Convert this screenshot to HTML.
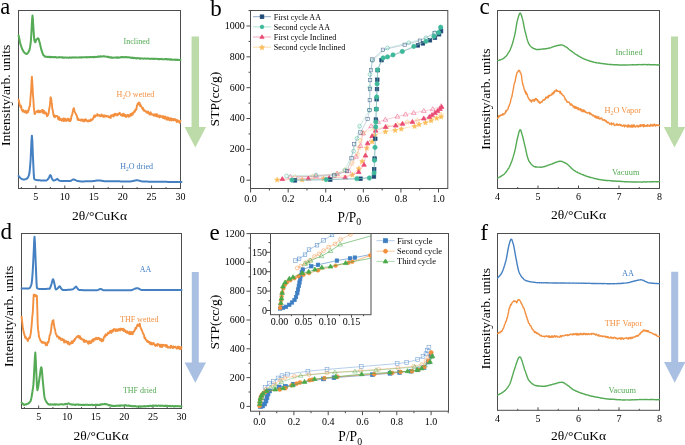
<!DOCTYPE html>
<html><head><meta charset="utf-8"><style>html,body{margin:0;padding:0;background:#fff;width:685px;height:445px;overflow:hidden}text{font-family:"Liberation Serif",serif}</style></head>
<body>
<svg width="685" height="445" viewBox="0 0 685 445" style="display:block;will-change:transform;font-family:'Liberation Serif',serif">
<rect width="685" height="445" fill="#fff"/>
<rect x="18.5" y="10.5" width="162.0" height="178.0" fill="none" stroke="#4d4d4d" stroke-width="1"/>
<line x1="35.85714285714286" y1="188.5" x2="35.85714285714286" y2="185.5" stroke="#4d4d4d" stroke-width="1"/>
<text x="35.86" y="199.6" font-size="10" text-anchor="middle" fill="#000" >5</text>
<line x1="64.78571428571428" y1="188.5" x2="64.78571428571428" y2="185.5" stroke="#4d4d4d" stroke-width="1"/>
<text x="64.79" y="199.6" font-size="10" text-anchor="middle" fill="#000" >10</text>
<line x1="93.71428571428571" y1="188.5" x2="93.71428571428571" y2="185.5" stroke="#4d4d4d" stroke-width="1"/>
<text x="93.71" y="199.6" font-size="10" text-anchor="middle" fill="#000" >15</text>
<line x1="122.64285714285714" y1="188.5" x2="122.64285714285714" y2="185.5" stroke="#4d4d4d" stroke-width="1"/>
<text x="122.64" y="199.6" font-size="10" text-anchor="middle" fill="#000" >20</text>
<line x1="151.57142857142856" y1="188.5" x2="151.57142857142856" y2="185.5" stroke="#4d4d4d" stroke-width="1"/>
<text x="151.57" y="199.6" font-size="10" text-anchor="middle" fill="#000" >25</text>
<line x1="180.5" y1="188.5" x2="180.5" y2="185.5" stroke="#4d4d4d" stroke-width="1"/>
<text x="180.5" y="199.6" font-size="10" text-anchor="middle" fill="#000" >30</text>
<line x1="21.392857142857142" y1="188.5" x2="21.392857142857142" y2="187.0" stroke="#4d4d4d" stroke-width="1"/>
<line x1="50.32142857142857" y1="188.5" x2="50.32142857142857" y2="187.0" stroke="#4d4d4d" stroke-width="1"/>
<line x1="79.25" y1="188.5" x2="79.25" y2="187.0" stroke="#4d4d4d" stroke-width="1"/>
<line x1="108.17857142857143" y1="188.5" x2="108.17857142857143" y2="187.0" stroke="#4d4d4d" stroke-width="1"/>
<line x1="137.10714285714286" y1="188.5" x2="137.10714285714286" y2="187.0" stroke="#4d4d4d" stroke-width="1"/>
<line x1="166.03571428571428" y1="188.5" x2="166.03571428571428" y2="187.0" stroke="#4d4d4d" stroke-width="1"/>
<text x="99.5" y="219.8" font-size="13.5" text-anchor="middle" fill="#000" >2θ/°CuKα</text>
<text x="0" y="0" font-size="13.5" text-anchor="middle" fill="#000" transform="translate(9.8,95.3) rotate(-90)">Intensity/arb. units</text>
<path d="M18.60,35.47 L19.08,37.82 L19.56,40.05 L20.04,42.43 L20.52,44.46 L21.00,45.78 L21.50,47.09 L22.00,48.72 L22.50,49.51 L23.00,50.45 L23.50,51.62 L24.00,51.99 L24.50,52.71 L25.00,53.05 L25.50,53.56 L26.00,53.61 L26.50,53.97 L27.00,53.94 L27.50,53.36 L28.00,52.84 L28.50,52.01 L29.00,50.78 L29.45,49.92 L29.90,47.94 L30.35,45.21 L30.80,41.77 L31.30,34.55 L31.80,24.99 L32.15,18.99 L32.50,15.59 L32.90,19.45 L33.30,26.21 L33.80,34.15 L34.30,40.15 L34.75,41.47 L35.20,42.32 L35.63,41.72 L36.07,40.18 L36.50,39.32 L36.92,38.92 L37.35,38.91 L37.78,38.37 L38.20,38.36 L38.63,38.84 L39.07,40.41 L39.50,41.94 L40.00,43.81 L40.50,46.09 L41.00,48.23 L41.50,50.20 L42.00,51.62 L42.50,53.17 L43.00,54.33 L43.50,55.25 L43.98,55.66 L44.45,55.90 L44.92,56.60 L45.40,56.83 L45.88,56.87 L46.36,56.76 L46.84,56.89 L47.32,56.68 L47.80,57.04 L48.28,56.95 L48.76,56.84 L49.24,56.76 L49.72,57.18 L50.20,57.27 L50.68,56.84 L51.16,57.22 L51.64,57.04 L52.12,56.93 L52.60,57.02 L53.08,57.27 L53.56,57.34 L54.04,56.94 L54.52,57.24 L55.00,56.97 L55.50,57.33 L56.00,57.15 L56.50,57.45 L57.00,57.52 L57.50,57.30 L58.00,57.56 L58.50,57.24 L59.00,57.14 L59.50,57.42 L60.00,57.15 L60.50,57.26 L61.00,57.38 L61.50,57.50 L62.00,57.28 L62.50,57.24 L63.00,57.67 L63.50,57.41 L64.00,57.74 L64.50,57.73 L65.00,57.48 L65.50,57.53 L66.00,57.57 L66.50,57.64 L67.00,57.62 L67.50,57.61 L68.00,57.65 L68.50,57.81 L69.00,57.60 L69.50,57.56 L70.00,57.71 L70.50,57.47 L71.00,57.50 L71.50,57.83 L72.00,57.60 L72.50,57.61 L73.00,57.34 L73.50,57.53 L74.00,57.61 L74.50,57.32 L75.00,57.61 L75.50,57.61 L76.00,57.31 L76.50,57.58 L77.00,57.49 L77.50,57.59 L78.00,57.41 L78.50,57.57 L79.00,57.58 L79.50,57.21 L80.00,57.21 L80.50,57.51 L81.00,57.64 L81.50,57.27 L82.00,57.36 L82.50,57.41 L83.00,57.26 L83.50,57.27 L84.00,57.23 L84.50,57.25 L85.00,57.35 L85.50,57.19 L86.00,57.21 L86.50,57.40 L87.00,57.02 L87.50,57.27 L88.00,57.34 L88.50,57.12 L89.00,57.06 L89.50,57.34 L90.00,57.04 L90.50,57.00 L91.00,57.11 L91.50,57.23 L92.00,56.91 L92.50,57.01 L93.00,57.00 L93.50,57.23 L94.00,57.01 L94.50,57.20 L95.00,56.83 L95.49,56.89 L95.99,57.02 L96.48,57.09 L96.97,56.83 L97.47,56.67 L97.96,56.57 L98.46,56.72 L98.95,56.50 L99.44,56.76 L99.94,56.73 L100.43,56.36 L100.93,56.37 L101.42,56.60 L101.91,56.49 L102.41,56.56 L102.90,56.32 L103.39,56.22 L103.88,56.32 L104.38,56.60 L104.87,56.38 L105.36,56.47 L105.85,56.56 L106.34,56.63 L106.83,56.69 L107.33,57.02 L107.82,56.72 L108.31,56.72 L108.80,57.27 L109.29,57.32 L109.78,57.45 L110.28,57.26 L110.77,57.59 L111.26,57.65 L111.75,57.36 L112.24,57.68 L112.73,57.77 L113.23,57.73 L113.72,57.68 L114.21,57.59 L114.70,57.62 L115.18,57.56 L115.67,57.47 L116.15,57.70 L116.64,57.52 L117.12,57.75 L117.61,57.33 L118.09,57.72 L118.57,57.57 L119.06,57.64 L119.54,57.57 L120.03,57.53 L120.51,57.32 L120.99,57.00 L121.48,57.33 L121.96,57.00 L122.45,57.04 L122.93,57.20 L123.42,57.12 L123.90,57.06 L124.40,57.32 L124.90,57.17 L125.40,57.05 L125.90,57.03 L126.40,57.37 L126.90,57.21 L127.40,57.40 L127.90,57.23 L128.40,57.20 L128.90,57.42 L129.40,57.62 L129.90,57.36 L130.40,57.72 L130.90,57.85 L131.40,57.85 L131.90,57.93 L132.40,57.58 L132.90,57.95 L133.40,58.13 L133.90,57.78 L134.40,57.95 L134.90,58.01 L135.40,58.19 L135.90,58.18 L136.40,58.25 L136.90,58.45 L137.40,58.10 L137.90,58.15 L138.40,58.21 L138.89,58.23 L139.38,58.23 L139.87,58.70 L140.36,58.66 L140.85,58.29 L141.35,58.52 L141.84,58.44 L142.33,58.45 L142.82,58.49 L143.31,58.65 L143.80,58.63 L144.29,58.54 L144.78,58.46 L145.27,58.55 L145.76,58.46 L146.25,58.68 L146.75,58.78 L147.24,58.62 L147.73,58.48 L148.22,58.54 L148.71,58.65 L149.20,58.78 L149.69,58.87 L150.18,58.68 L150.67,58.91 L151.16,58.83 L151.65,58.74 L152.15,58.72 L152.64,58.80 L153.13,58.91 L153.62,58.78 L154.11,58.93 L154.60,58.82 L155.09,58.73 L155.58,58.89 L156.07,58.98 L156.56,58.68 L157.05,58.87 L157.55,58.88 L158.04,59.13 L158.53,59.17 L159.02,58.90 L159.51,59.18 L160.00,59.15 L160.50,58.90 L161.00,59.02 L161.50,58.87 L162.00,59.23 L162.50,59.18 L163.00,59.31 L163.50,59.28 L164.00,59.24 L164.50,59.30 L165.00,59.24 L165.50,59.03 L166.00,59.30 L166.50,59.03 L167.00,59.12 L167.50,59.46 L168.00,59.12 L168.50,59.17 L169.00,59.20 L169.50,59.62 L170.00,59.29 L170.50,59.24 L171.00,59.68 L171.50,59.34 L172.00,59.73 L172.50,59.67 L173.00,59.78 L173.50,59.86 L174.00,59.70 L174.50,59.84 L175.00,59.49 L175.50,59.88 L176.00,59.78 L176.50,59.90 L177.00,59.63 L177.50,59.97 L178.00,60.09 L178.50,59.68 L179.00,59.84 L179.50,59.98 L180.00,60.14 L180.50,59.87" fill="none" stroke="#55aa55" stroke-width="2" stroke-linejoin="round" stroke-linecap="round"/>
<path d="M18.60,99.74 L18.98,101.47 L19.36,103.09 L19.74,104.94 L20.12,105.65 L20.50,107.18 L20.93,105.65 L21.37,107.83 L21.80,110.09 L22.23,110.11 L22.67,111.58 L23.10,110.01 L23.53,111.49 L23.97,111.18 L24.40,112.12 L24.83,112.21 L25.27,110.64 L25.70,111.21 L26.13,111.38 L26.57,113.17 L27.00,112.74 L27.42,110.92 L27.83,112.35 L28.25,109.92 L28.67,110.47 L29.08,108.12 L29.50,106.60 L29.93,106.29 L30.37,99.66 L30.80,94.20 L31.17,89.74 L31.53,81.92 L31.90,76.71 L32.27,82.13 L32.63,88.42 L33.00,95.50 L33.42,100.03 L33.85,107.87 L34.28,111.58 L34.70,114.11 L35.11,113.88 L35.53,112.15 L35.94,112.22 L36.35,111.56 L36.76,111.37 L37.17,111.01 L37.59,111.55 L38.00,112.29 L38.42,110.51 L38.84,112.28 L39.27,111.21 L39.69,111.02 L40.11,112.33 L40.53,111.29 L40.96,110.75 L41.38,111.17 L41.80,111.77 L42.20,110.01 L42.60,112.71 L43.00,110.24 L43.40,112.52 L43.80,113.07 L44.20,111.05 L44.60,113.51 L45.00,112.63 L45.38,113.56 L45.77,112.41 L46.15,112.98 L46.53,113.78 L46.92,116.26 L47.30,114.25 L47.74,115.41 L48.18,114.80 L48.62,113.23 L49.06,109.63 L49.50,107.59 L49.85,105.42 L50.20,102.45 L50.55,97.31 L50.90,97.70 L51.25,99.13 L51.60,102.39 L51.95,103.73 L52.30,109.25 L52.73,109.78 L53.17,113.12 L53.60,115.31 L54.02,116.62 L54.45,115.35 L54.88,117.25 L55.30,116.40 L55.73,115.92 L56.15,116.10 L56.58,115.88 L57.00,115.82 L57.43,116.28 L57.87,118.08 L58.30,119.24 L58.73,117.21 L59.17,117.20 L59.60,120.13 L60.03,119.14 L60.47,119.03 L60.90,118.76 L61.33,119.92 L61.77,120.68 L62.20,119.68 L62.64,119.58 L63.08,118.56 L63.52,120.96 L63.96,118.49 L64.39,119.78 L64.83,120.75 L65.27,118.77 L65.71,120.45 L66.15,121.06 L66.59,120.17 L67.03,120.61 L67.47,118.70 L67.91,119.62 L68.34,118.82 L68.78,120.77 L69.22,119.23 L69.66,119.67 L70.10,121.20 L70.50,120.44 L70.90,119.87 L71.30,117.11 L71.70,115.73 L72.10,114.93 L72.50,112.94 L72.88,111.16 L73.25,110.10 L73.62,108.27 L74.00,108.46 L74.45,110.76 L74.90,112.11 L75.35,112.90 L75.80,114.00 L76.24,114.76 L76.68,115.35 L77.12,117.03 L77.56,119.35 L78.00,120.03 L78.44,118.76 L78.88,120.08 L79.32,120.18 L79.76,120.08 L80.20,120.10 L80.64,120.48 L81.08,119.47 L81.52,120.51 L81.96,119.41 L82.40,120.06 L82.84,120.93 L83.28,120.77 L83.72,119.72 L84.16,121.60 L84.60,120.81 L85.04,120.66 L85.48,119.11 L85.92,120.64 L86.36,119.83 L86.80,121.03 L87.24,120.47 L87.68,121.47 L88.12,121.01 L88.56,121.43 L89.00,120.17 L89.44,120.95 L89.88,121.07 L90.32,121.10 L90.76,119.47 L91.19,120.50 L91.63,120.18 L92.07,119.25 L92.51,119.60 L92.95,119.08 L93.39,117.39 L93.83,116.96 L94.27,115.52 L94.71,117.00 L95.14,116.93 L95.58,115.35 L96.02,115.73 L96.46,115.67 L96.90,115.64 L97.35,114.09 L97.79,115.82 L98.24,115.31 L98.68,115.60 L99.13,114.99 L99.58,115.64 L100.02,116.16 L100.47,115.88 L100.92,116.23 L101.36,114.40 L101.81,114.90 L102.25,115.81 L102.70,116.52 L103.15,115.44 L103.59,116.87 L104.04,116.84 L104.48,115.31 L104.93,116.62 L105.38,116.04 L105.82,115.65 L106.27,115.96 L106.72,116.55 L107.16,116.23 L107.61,116.30 L108.05,115.89 L108.50,117.10 L108.95,116.85 L109.40,117.45 L109.85,117.31 L110.30,116.21 L110.75,117.95 L111.20,115.27 L111.65,116.24 L112.10,115.70 L112.55,115.87 L113.00,114.84 L113.45,116.64 L113.90,115.15 L114.35,113.99 L114.80,115.40 L115.25,113.74 L115.70,114.81 L116.15,114.05 L116.60,114.56 L117.05,115.46 L117.50,114.94 L117.95,113.72 L118.40,114.74 L118.85,114.22 L119.30,113.43 L119.75,112.82 L120.19,114.17 L120.64,114.19 L121.09,115.43 L121.53,115.63 L121.98,114.81 L122.43,114.28 L122.87,116.00 L123.32,113.70 L123.77,114.18 L124.21,115.63 L124.66,115.91 L125.11,114.70 L125.55,116.14 L126.00,116.90 L126.44,115.44 L126.89,115.56 L127.33,114.93 L127.78,115.03 L128.22,116.84 L128.67,115.05 L129.11,116.54 L129.56,116.24 L130.00,115.17 L130.44,114.03 L130.89,115.83 L131.33,114.24 L131.78,113.76 L132.22,113.22 L132.67,114.80 L133.11,113.12 L133.56,112.23 L134.00,112.44 L134.42,111.01 L134.83,111.79 L135.25,110.53 L135.67,109.25 L136.08,109.70 L136.50,108.92 L136.88,105.59 L137.26,105.74 L137.64,103.73 L138.02,104.61 L138.40,103.79 L138.83,102.44 L139.27,102.89 L139.70,103.14 L140.13,106.12 L140.57,104.83 L141.00,106.30 L141.43,106.49 L141.87,107.59 L142.30,108.13 L142.73,109.19 L143.17,108.09 L143.60,110.49 L144.03,109.75 L144.47,110.85 L144.90,110.64 L145.35,110.81 L145.79,111.72 L146.24,111.78 L146.68,111.72 L147.13,113.01 L147.57,112.78 L148.02,111.41 L148.47,112.20 L148.91,112.94 L149.36,114.39 L149.80,114.46 L150.25,113.65 L150.70,112.30 L151.14,114.58 L151.59,113.73 L152.03,114.27 L152.48,114.77 L152.93,114.68 L153.37,114.39 L153.82,115.72 L154.26,114.37 L154.71,114.52 L155.15,115.95 L155.60,114.25 L156.04,114.67 L156.47,116.30 L156.91,114.29 L157.34,116.58 L157.78,116.32 L158.21,115.71 L158.65,115.43 L159.09,116.94 L159.52,117.42 L159.96,115.39 L160.39,116.46 L160.83,116.77 L161.26,116.75 L161.70,116.40 L162.14,116.02 L162.57,117.35 L163.01,118.09 L163.44,116.13 L163.88,116.70 L164.31,118.46 L164.75,118.50 L165.19,118.26 L165.62,116.59 L166.06,118.65 L166.49,119.49 L166.93,119.66 L167.36,118.94 L167.80,117.24 L168.24,119.58 L168.68,117.95 L169.11,119.27 L169.55,120.24 L169.99,119.69 L170.43,118.19 L170.87,118.75 L171.30,120.62 L171.74,118.58 L172.18,119.99 L172.62,119.56 L173.06,118.97 L173.49,120.38 L173.93,118.87 L174.37,119.17 L174.81,120.05 L175.24,119.30 L175.68,119.38 L176.12,120.94 L176.56,121.53 L177.00,122.03 L177.43,120.06 L177.87,121.01 L178.31,120.80 L178.75,121.71 L179.19,121.52 L179.62,122.89 L180.06,121.43 L180.50,120.66" fill="none" stroke="#f39040" stroke-width="1.9" stroke-linejoin="round" stroke-linecap="round"/>
<path d="M18.60,175.90 L19.08,176.46 L19.56,177.06 L20.04,177.64 L20.52,178.14 L21.00,178.50 L21.45,178.75 L21.90,178.98 L22.35,179.19 L22.80,179.35 L23.25,179.46 L23.70,179.50 L24.17,179.48 L24.64,179.41 L25.11,179.30 L25.59,179.15 L26.06,178.96 L26.53,178.75 L27.00,178.50 L27.44,178.15 L27.88,177.56 L28.32,176.74 L28.76,175.65 L29.20,174.30 L29.67,171.26 L30.13,166.11 L30.60,160.00 L31.03,151.15 L31.47,140.72 L31.90,135.70 L32.30,140.34 L32.70,150.39 L33.10,160.00 L33.47,167.90 L33.83,175.47 L34.20,179.00 L34.68,179.32 L35.15,179.57 L35.62,179.77 L36.10,179.91 L36.58,180.02 L37.05,180.09 L37.52,180.15 L38.00,180.20 L38.48,180.25 L38.96,180.29 L39.44,180.33 L39.92,180.37 L40.41,180.40 L40.89,180.44 L41.37,180.47 L41.85,180.49 L42.33,180.52 L42.81,180.54 L43.29,180.56 L43.78,180.57 L44.26,180.58 L44.74,180.59 L45.22,180.60 L45.70,180.60 L46.17,180.51 L46.63,180.28 L47.10,179.93 L47.57,179.49 L48.03,179.01 L48.50,178.50 L48.98,177.68 L49.45,176.54 L49.92,175.53 L50.40,175.10 L50.80,175.51 L51.20,176.48 L51.60,177.60 L52.00,178.50 L52.40,179.19 L52.80,179.87 L53.20,180.39 L53.60,180.60 L54.08,180.54 L54.55,180.40 L55.02,180.20 L55.50,180.00 L55.92,179.74 L56.35,179.41 L56.78,179.12 L57.20,179.00 L57.65,179.21 L58.10,179.68 L58.55,180.18 L59.00,180.50 L59.46,180.64 L59.91,180.77 L60.37,180.88 L60.83,180.97 L61.29,181.04 L61.74,181.08 L62.20,181.10 L62.69,181.10 L63.18,181.10 L63.66,181.10 L64.15,181.09 L64.64,181.09 L65.12,181.09 L65.61,181.08 L66.10,181.08 L66.59,181.07 L67.08,181.06 L67.56,181.06 L68.05,181.05 L68.54,181.04 L69.03,181.03 L69.51,181.01 L70.00,181.00 L70.45,180.93 L70.90,180.75 L71.35,180.51 L71.80,180.24 L72.25,179.97 L72.70,179.73 L73.15,179.56 L73.60,179.50 L74.09,179.56 L74.57,179.72 L75.06,179.94 L75.54,180.19 L76.03,180.44 L76.51,180.65 L77.00,180.80 L77.46,180.90 L77.91,180.99 L78.37,181.09 L78.82,181.17 L79.28,181.25 L79.73,181.31 L80.19,181.36 L80.64,181.39 L81.10,181.40 L81.60,181.40 L82.09,181.40 L82.59,181.40 L83.08,181.39 L83.58,181.39 L84.07,181.38 L84.57,181.38 L85.06,181.37 L85.56,181.36 L86.05,181.36 L86.55,181.35 L87.05,181.34 L87.54,181.33 L88.04,181.31 L88.53,181.30 L89.03,181.29 L89.52,181.28 L90.02,181.26 L90.51,181.25 L91.01,181.23 L91.50,181.22 L92.00,181.20 L92.50,181.17 L93.00,181.12 L93.50,181.06 L94.00,180.99 L94.50,180.90 L95.00,180.82 L95.50,180.73 L96.00,180.64 L96.50,180.57 L97.00,180.50 L97.50,180.45 L98.00,180.41 L98.50,180.40 L99.00,180.41 L99.50,180.45 L100.00,180.50 L100.50,180.57 L101.00,180.65 L101.50,180.74 L102.00,180.83 L102.50,180.92 L103.00,181.00 L103.50,181.08 L104.00,181.14 L104.50,181.18 L105.00,181.20 L105.50,181.21 L106.00,181.22 L106.50,181.23 L107.00,181.23 L107.50,181.24 L108.00,181.25 L108.50,181.26 L109.00,181.26 L109.50,181.27 L110.00,181.28 L110.50,181.29 L111.00,181.29 L111.50,181.30 L112.00,181.30 L112.50,181.31 L113.00,181.32 L113.50,181.32 L114.00,181.33 L114.50,181.33 L115.00,181.34 L115.50,181.34 L116.00,181.34 L116.50,181.35 L117.00,181.35 L117.50,181.36 L118.00,181.36 L118.50,181.36 L119.00,181.37 L119.50,181.37 L120.00,181.37 L120.50,181.38 L121.00,181.38 L121.50,181.38 L122.00,181.38 L122.50,181.39 L123.00,181.39 L123.50,181.39 L124.00,181.39 L124.50,181.39 L125.00,181.39 L125.50,181.39 L126.00,181.40 L126.50,181.40 L127.00,181.40 L127.50,181.40 L128.00,181.40 L128.50,181.40 L129.00,181.40 L129.50,181.40 L130.00,181.40 L130.47,181.39 L130.95,181.35 L131.42,181.29 L131.89,181.21 L132.37,181.11 L132.84,181.01 L133.31,180.90 L133.79,180.80 L134.26,180.69 L134.73,180.59 L135.21,180.49 L135.68,180.41 L136.15,180.35 L136.63,180.31 L137.10,180.30 L137.59,180.32 L138.08,180.38 L138.57,180.48 L139.07,180.60 L139.56,180.73 L140.05,180.88 L140.54,181.02 L141.03,181.16 L141.53,181.29 L142.02,181.39 L142.51,181.46 L143.00,181.50 L143.50,181.52 L144.00,181.53 L144.50,181.54 L145.00,181.56 L145.50,181.57 L146.00,181.59 L146.50,181.60 L147.00,181.61 L147.50,181.62 L148.00,181.63 L148.50,181.64 L149.00,181.66 L149.50,181.67 L150.00,181.68 L150.50,181.69 L151.00,181.69 L151.50,181.70 L152.00,181.71 L152.50,181.72 L153.00,181.73 L153.50,181.74 L154.00,181.74 L154.50,181.75 L155.00,181.76 L155.50,181.77 L156.00,181.77 L156.50,181.78 L157.00,181.78 L157.50,181.79 L158.00,181.80 L158.50,181.80 L159.00,181.81 L159.50,181.81 L160.00,181.82 L160.50,181.82 L161.00,181.83 L161.50,181.83 L162.00,181.84 L162.50,181.84 L163.00,181.84 L163.50,181.85 L164.00,181.85 L164.50,181.86 L165.00,181.86 L165.50,181.86 L166.00,181.87 L166.50,181.87 L167.00,181.87 L167.50,181.88 L168.00,181.88 L168.50,181.88 L169.00,181.89 L169.50,181.89 L170.00,181.89 L170.50,181.90 L171.00,181.90 L171.50,181.90 L172.00,181.91 L172.50,181.91 L173.00,181.92 L173.50,181.92 L174.00,181.92 L174.50,181.93 L175.00,181.93 L175.50,181.94 L176.00,181.94 L176.50,181.95 L177.00,181.95 L177.50,181.95 L178.00,181.96 L178.50,181.96 L179.00,181.97 L179.50,181.98 L180.00,181.98 L180.50,181.99 L181.00,181.99 L181.50,182.00" fill="none" stroke="#4580c2" stroke-width="2" stroke-linejoin="round" stroke-linecap="round"/>
<text x="123.5" y="44" font-size="8" fill="#55aa55"><tspan>Inclined</tspan></text>
<text x="116.6" y="96.5" font-size="8" fill="#f39040"><tspan>H</tspan><tspan font-size="5.44" dy="2">2</tspan><tspan dy="-2">O wetted</tspan></text>
<text x="120.3" y="169" font-size="8" fill="#4580c2"><tspan>H</tspan><tspan font-size="5.44" dy="2">2</tspan><tspan dy="-2">O dried</tspan></text>
<text x="0.3" y="13.5" font-size="22.5" text-anchor="start" fill="#000" >a</text>
<path d="M191.55,36.6 L199.05,36.6 L199.05,127 L206.0,127 L195.3,147.6 L184.60000000000002,127 L191.55,127 Z" fill="#bcdba8"/>
<rect x="21.5" y="233.5" width="160.0" height="175.0" fill="none" stroke="#4d4d4d" stroke-width="1"/>
<line x1="38.64285714285714" y1="408.5" x2="38.64285714285714" y2="405.5" stroke="#4d4d4d" stroke-width="1"/>
<text x="38.64" y="419.6" font-size="10" text-anchor="middle" fill="#000" >5</text>
<line x1="67.21428571428572" y1="408.5" x2="67.21428571428572" y2="405.5" stroke="#4d4d4d" stroke-width="1"/>
<text x="67.21" y="419.6" font-size="10" text-anchor="middle" fill="#000" >10</text>
<line x1="95.78571428571429" y1="408.5" x2="95.78571428571429" y2="405.5" stroke="#4d4d4d" stroke-width="1"/>
<text x="95.79" y="419.6" font-size="10" text-anchor="middle" fill="#000" >15</text>
<line x1="124.35714285714286" y1="408.5" x2="124.35714285714286" y2="405.5" stroke="#4d4d4d" stroke-width="1"/>
<text x="124.36" y="419.6" font-size="10" text-anchor="middle" fill="#000" >20</text>
<line x1="152.92857142857144" y1="408.5" x2="152.92857142857144" y2="405.5" stroke="#4d4d4d" stroke-width="1"/>
<text x="152.93" y="419.6" font-size="10" text-anchor="middle" fill="#000" >25</text>
<line x1="181.5" y1="408.5" x2="181.5" y2="405.5" stroke="#4d4d4d" stroke-width="1"/>
<text x="181.5" y="419.6" font-size="10" text-anchor="middle" fill="#000" >30</text>
<line x1="24.357142857142858" y1="408.5" x2="24.357142857142858" y2="407.0" stroke="#4d4d4d" stroke-width="1"/>
<line x1="52.92857142857143" y1="408.5" x2="52.92857142857143" y2="407.0" stroke="#4d4d4d" stroke-width="1"/>
<line x1="81.5" y1="408.5" x2="81.5" y2="407.0" stroke="#4d4d4d" stroke-width="1"/>
<line x1="110.07142857142857" y1="408.5" x2="110.07142857142857" y2="407.0" stroke="#4d4d4d" stroke-width="1"/>
<line x1="138.64285714285714" y1="408.5" x2="138.64285714285714" y2="407.0" stroke="#4d4d4d" stroke-width="1"/>
<line x1="167.21428571428572" y1="408.5" x2="167.21428571428572" y2="407.0" stroke="#4d4d4d" stroke-width="1"/>
<text x="101.0" y="439.8" font-size="13.5" text-anchor="middle" fill="#000" >2θ/°CuKα</text>
<text x="0" y="0" font-size="13.5" text-anchor="middle" fill="#000" transform="translate(12.5,316.4) rotate(-90)">Intensity/arb. units</text>
<path d="M21.60,288.40 L22.09,288.40 L22.59,288.40 L23.08,288.40 L23.57,288.40 L24.07,288.40 L24.56,288.40 L25.05,288.40 L25.55,288.40 L26.04,288.40 L26.53,288.40 L27.03,288.40 L27.52,288.40 L28.01,288.40 L28.51,288.40 L29.00,288.40 L29.50,288.20 L30.00,287.64 L30.50,286.73 L31.00,285.51 L31.50,284.00 L31.93,281.11 L32.37,276.05 L32.80,270.00 L33.30,260.66 L33.80,250.00 L34.15,241.65 L34.50,236.70 L34.90,242.17 L35.30,252.00 L35.75,263.56 L36.20,275.00 L36.55,283.23 L36.90,287.90 L37.34,288.25 L37.79,288.51 L38.23,288.71 L38.67,288.85 L39.11,288.94 L39.56,288.99 L40.00,289.00 L40.50,289.00 L41.00,289.00 L41.50,289.00 L42.00,288.99 L42.50,288.99 L43.00,288.98 L43.50,288.97 L44.00,288.96 L44.50,288.95 L45.00,288.94 L45.50,288.92 L46.00,288.90 L46.50,288.88 L47.00,288.86 L47.50,288.83 L48.00,288.80 L48.50,288.77 L49.00,288.74 L49.50,288.70 L50.00,288.20 L50.50,287.01 L51.00,285.49 L51.50,284.00 L52.00,282.15 L52.50,280.14 L53.00,279.20 L53.50,280.04 L54.00,281.94 L54.50,284.00 L54.93,286.13 L55.37,288.43 L55.80,289.50 L56.24,289.40 L56.68,289.14 L57.12,288.79 L57.56,288.39 L58.00,288.00 L58.42,287.54 L58.85,286.98 L59.28,286.50 L59.70,286.30 L60.20,286.75 L60.70,287.68 L61.20,288.50 L61.62,289.00 L62.05,289.49 L62.48,289.85 L62.90,290.00 L63.38,290.00 L63.86,290.00 L64.34,289.99 L64.82,289.98 L65.29,289.97 L65.77,289.96 L66.25,289.94 L66.73,289.92 L67.21,289.90 L67.69,289.87 L68.17,289.84 L68.65,289.81 L69.13,289.78 L69.61,289.74 L70.08,289.70 L70.56,289.66 L71.04,289.61 L71.52,289.56 L72.00,289.50 L72.50,289.37 L73.00,289.11 L73.50,288.77 L74.00,288.38 L74.50,288.00 L75.00,287.47 L75.50,286.88 L76.00,286.60 L76.50,286.98 L77.00,287.79 L77.50,288.50 L77.97,288.99 L78.45,289.47 L78.93,289.84 L79.40,290.00 L79.89,290.02 L80.39,290.04 L80.88,290.06 L81.38,290.08 L81.87,290.10 L82.37,290.12 L82.86,290.13 L83.35,290.15 L83.85,290.16 L84.34,290.17 L84.84,290.19 L85.33,290.20 L85.83,290.21 L86.32,290.22 L86.81,290.23 L87.31,290.24 L87.80,290.24 L88.30,290.25 L88.79,290.26 L89.29,290.26 L89.78,290.27 L90.27,290.27 L90.77,290.28 L91.26,290.28 L91.76,290.29 L92.25,290.29 L92.75,290.29 L93.24,290.29 L93.73,290.30 L94.23,290.30 L94.72,290.30 L95.22,290.30 L95.71,290.30 L96.21,290.30 L96.70,290.30 L97.20,290.24 L97.70,290.10 L98.20,289.89 L98.70,289.65 L99.20,289.41 L99.70,289.20 L100.20,289.06 L100.70,289.00 L101.17,289.07 L101.64,289.26 L102.11,289.51 L102.59,289.79 L103.06,290.04 L103.53,290.23 L104.00,290.30 L104.50,290.30 L105.00,290.30 L105.50,290.30 L106.00,290.30 L106.50,290.30 L107.00,290.30 L107.50,290.30 L108.00,290.30 L108.50,290.30 L109.00,290.30 L109.50,290.30 L110.00,290.30 L110.50,290.30 L111.00,290.30 L111.50,290.30 L112.00,290.30 L112.50,290.30 L113.00,290.30 L113.50,290.30 L114.00,290.30 L114.50,290.30 L115.00,290.30 L115.50,290.30 L116.00,290.30 L116.50,290.30 L117.00,290.30 L117.50,290.30 L118.00,290.30 L118.50,290.30 L119.00,290.30 L119.50,290.30 L120.00,290.30 L120.50,290.30 L121.00,290.30 L121.50,290.30 L122.00,290.30 L122.50,290.30 L123.00,290.30 L123.50,290.30 L124.00,290.30 L124.50,290.30 L125.00,290.30 L125.50,290.30 L126.00,290.30 L126.50,290.30 L127.00,290.30 L127.50,290.30 L128.00,290.30 L128.50,290.30 L129.00,290.30 L129.50,290.30 L130.00,290.30 L130.49,290.27 L130.99,290.20 L131.48,290.08 L131.97,289.93 L132.47,289.76 L132.96,289.56 L133.45,289.35 L133.95,289.15 L134.44,288.94 L134.93,288.74 L135.43,288.57 L135.92,288.42 L136.41,288.30 L136.91,288.23 L137.40,288.20 L137.86,288.25 L138.32,288.39 L138.78,288.59 L139.24,288.83 L139.70,289.10 L140.16,289.37 L140.62,289.61 L141.08,289.81 L141.54,289.95 L142.00,290.00 L142.50,290.00 L143.00,290.00 L143.50,290.00 L144.00,290.00 L144.50,290.00 L145.00,290.00 L145.50,290.00 L146.00,290.00 L146.50,290.00 L147.00,290.00 L147.50,290.00 L148.00,290.00 L148.50,290.00 L149.00,290.00 L149.50,290.00 L150.00,290.00 L150.50,290.00 L151.00,290.00 L151.50,290.00 L152.00,290.00 L152.50,290.00 L153.00,290.00 L153.50,290.00 L154.00,290.00 L154.50,290.00 L155.00,290.00 L155.50,290.00 L156.00,290.00 L156.50,290.00 L157.00,290.00 L157.50,290.00 L158.00,290.00 L158.50,290.00 L159.00,290.00 L159.50,290.00 L160.00,290.00 L160.50,290.00 L161.00,290.00 L161.50,290.00 L162.00,290.00 L162.50,290.00 L163.00,290.00 L163.50,290.00 L164.00,290.00 L164.50,290.00 L165.00,290.00 L165.50,290.00 L166.00,290.00 L166.50,290.00 L167.00,290.00 L167.50,290.00 L168.00,290.00 L168.50,290.00 L169.00,290.00 L169.50,290.00 L170.00,290.00 L170.50,290.00 L171.00,290.00 L171.50,290.00 L172.00,290.00 L172.50,290.00 L173.00,290.00 L173.50,290.00 L174.00,290.00 L174.50,290.00 L175.00,290.00 L175.50,290.00 L176.00,290.00 L176.50,290.00 L177.00,290.00 L177.50,290.00 L178.00,290.00 L178.50,290.00 L179.00,290.00 L179.50,290.00 L180.00,290.00 L180.50,290.00 L181.00,290.00 L181.50,290.00" fill="none" stroke="#4580c2" stroke-width="2" stroke-linejoin="round" stroke-linecap="round"/>
<path d="M21.60,316.63 L22.05,321.12 L22.50,324.76 L22.95,328.87 L23.40,330.32 L23.85,333.06 L24.30,334.41 L24.73,335.52 L25.17,337.77 L25.60,336.82 L26.03,338.59 L26.47,338.25 L26.90,338.92 L27.33,339.63 L27.77,340.98 L28.20,340.40 L28.58,338.52 L28.97,338.62 L29.35,337.30 L29.73,338.09 L30.12,336.46 L30.50,334.86 L30.88,332.55 L31.25,328.82 L31.62,325.32 L32.00,320.82 L32.33,315.93 L32.67,313.97 L33.00,308.56 L33.35,300.92 L33.70,294.58 L34.08,294.53 L34.45,295.07 L34.83,295.98 L35.20,295.98 L35.62,295.10 L36.05,296.35 L36.48,295.56 L36.90,295.76 L37.30,308.63 L37.70,324.55 L38.08,329.63 L38.47,331.58 L38.85,335.98 L39.23,337.49 L39.62,338.26 L40.00,339.27 L40.43,340.85 L40.86,340.68 L41.29,341.74 L41.71,342.54 L42.14,342.26 L42.57,341.77 L43.00,342.97 L43.41,342.42 L43.82,342.57 L44.23,342.60 L44.64,343.22 L45.05,342.51 L45.46,344.23 L45.87,345.16 L46.28,343.64 L46.69,344.60 L47.10,345.21 L47.51,342.41 L47.93,341.85 L48.34,342.47 L48.76,341.03 L49.17,338.77 L49.59,335.70 L50.00,334.76 L50.43,334.03 L50.86,331.53 L51.29,328.51 L51.71,324.12 L52.14,323.62 L52.57,320.66 L53.00,321.01 L53.40,320.13 L53.80,324.34 L54.20,325.78 L54.60,328.62 L55.00,329.19 L55.40,331.95 L55.80,333.42 L56.20,334.78 L56.60,335.01 L57.04,336.65 L57.49,336.13 L57.93,336.51 L58.38,336.60 L58.82,338.47 L59.26,337.25 L59.71,337.91 L60.15,337.78 L60.59,339.68 L61.04,339.70 L61.48,339.91 L61.93,338.73 L62.37,340.07 L62.81,340.02 L63.26,339.54 L63.70,339.51 L64.15,342.53 L64.60,340.31 L65.05,341.05 L65.50,341.19 L65.95,342.34 L66.40,341.11 L66.85,342.42 L67.30,342.32 L67.75,343.80 L68.20,341.63 L68.65,342.67 L69.10,343.21 L69.55,344.60 L70.00,343.35 L70.43,343.18 L70.86,343.60 L71.29,342.35 L71.72,341.33 L72.15,342.32 L72.58,343.09 L73.01,342.19 L73.44,340.41 L73.87,341.14 L74.30,341.13 L74.73,339.00 L75.16,339.46 L75.59,338.37 L76.02,337.64 L76.45,337.39 L76.88,336.83 L77.31,336.97 L77.74,335.88 L78.17,336.76 L78.60,335.84 L79.04,337.80 L79.49,337.58 L79.93,336.23 L80.38,338.78 L80.82,337.59 L81.27,338.85 L81.71,339.49 L82.16,339.24 L82.60,339.41 L83.02,340.04 L83.44,339.44 L83.86,341.71 L84.28,339.83 L84.70,342.05 L85.12,340.57 L85.54,341.02 L85.96,341.45 L86.38,340.63 L86.80,341.06 L87.22,341.85 L87.64,342.18 L88.06,343.48 L88.48,343.85 L88.90,341.22 L89.35,342.57 L89.80,341.34 L90.24,343.09 L90.69,341.56 L91.14,342.93 L91.59,341.70 L92.03,340.23 L92.48,339.59 L92.93,339.94 L93.38,341.35 L93.82,339.00 L94.27,339.59 L94.72,338.97 L95.17,338.58 L95.61,339.58 L96.06,337.67 L96.51,338.86 L96.96,338.53 L97.40,339.14 L97.85,337.89 L98.30,338.98 L98.70,337.72 L99.10,338.33 L99.50,338.81 L99.90,339.84 L100.30,340.43 L100.70,338.65 L101.10,339.06 L101.50,340.41 L101.90,341.27 L102.32,340.39 L102.75,339.45 L103.17,340.86 L103.59,338.43 L104.02,337.17 L104.44,336.35 L104.86,335.53 L105.28,336.71 L105.71,334.24 L106.13,335.27 L106.55,335.11 L106.98,335.01 L107.40,334.17 L107.85,332.85 L108.30,333.16 L108.75,333.52 L109.20,332.97 L109.65,331.56 L110.10,332.67 L110.55,330.64 L111.00,330.99 L111.45,332.73 L111.90,331.07 L112.35,330.33 L112.80,331.61 L113.25,330.51 L113.70,329.11 L114.15,329.03 L114.60,329.54 L115.05,329.62 L115.50,331.20 L115.95,329.16 L116.40,330.75 L116.85,330.68 L117.30,329.38 L117.75,330.93 L118.20,330.23 L118.65,329.41 L119.10,328.76 L119.55,329.30 L120.00,330.53 L120.44,329.52 L120.88,328.60 L121.32,329.19 L121.76,329.56 L122.20,328.89 L122.64,330.10 L123.09,328.75 L123.53,331.12 L123.97,329.51 L124.41,329.50 L124.85,331.06 L125.29,330.49 L125.73,332.32 L126.17,331.45 L126.61,331.73 L127.05,332.82 L127.49,331.29 L127.93,332.98 L128.37,332.89 L128.81,332.45 L129.26,334.09 L129.70,331.61 L130.14,334.08 L130.58,332.17 L131.02,334.19 L131.46,332.31 L131.90,332.05 L132.34,333.22 L132.77,334.16 L133.21,331.90 L133.64,332.04 L134.08,331.79 L134.51,330.10 L134.95,330.17 L135.38,327.96 L135.82,328.42 L136.25,328.54 L136.69,326.64 L137.12,325.63 L137.56,324.56 L137.99,325.88 L138.43,324.73 L138.86,325.85 L139.30,325.27 L139.75,323.74 L140.20,326.70 L140.65,327.73 L141.10,328.57 L141.55,329.81 L142.00,330.51 L142.40,331.66 L142.80,332.72 L143.20,333.82 L143.60,334.21 L144.00,335.14 L144.40,337.92 L144.80,338.46 L145.20,337.56 L145.63,339.65 L146.06,339.98 L146.50,340.11 L146.93,341.22 L147.36,341.86 L147.79,340.80 L148.22,342.33 L148.65,341.73 L149.09,342.21 L149.52,342.02 L149.95,343.71 L150.38,342.57 L150.81,344.20 L151.25,342.67 L151.68,343.79 L152.11,344.63 L152.54,344.15 L152.97,343.43 L153.40,342.74 L153.84,343.99 L154.27,343.94 L154.70,345.18 L155.14,345.21 L155.59,345.89 L156.03,344.50 L156.47,344.50 L156.92,345.03 L157.36,345.65 L157.81,343.87 L158.25,344.34 L158.69,344.23 L159.14,344.81 L159.58,344.83 L160.03,346.78 L160.47,344.72 L160.91,346.83 L161.36,345.11 L161.80,344.93 L162.24,347.15 L162.69,344.74 L163.13,344.87 L163.57,344.97 L164.02,344.86 L164.46,345.82 L164.91,345.39 L165.35,345.30 L165.79,344.95 L166.24,346.92 L166.68,345.16 L167.12,345.72 L167.57,346.72 L168.01,347.66 L168.46,347.09 L168.90,347.28 L169.35,347.32 L169.80,347.64 L170.25,347.85 L170.70,345.95 L171.15,345.72 L171.60,347.36 L172.05,347.12 L172.50,347.17 L172.95,347.95 L173.40,346.30 L173.85,347.83 L174.30,347.09 L174.75,347.12 L175.20,346.67 L175.65,346.82 L176.10,347.70 L176.55,347.67 L177.00,348.70 L177.45,346.99 L177.90,348.25 L178.35,346.56 L178.80,348.16 L179.25,346.83 L179.70,348.82 L180.15,349.17 L180.60,347.22 L181.05,348.82 L181.50,347.21" fill="none" stroke="#f39040" stroke-width="1.9" stroke-linejoin="round" stroke-linecap="round"/>
<path d="M21.60,402.51 L22.05,403.12 L22.50,403.71 L22.95,403.81 L23.40,404.53 L23.85,404.81 L24.30,404.90 L24.76,404.54 L25.23,404.41 L25.69,404.49 L26.15,404.55 L26.61,404.05 L27.07,403.98 L27.54,403.64 L28.00,403.71 L28.43,403.52 L28.87,402.90 L29.30,402.90 L29.73,401.88 L30.17,401.78 L30.60,401.13 L31.00,399.50 L31.40,397.90 L31.80,395.47 L32.20,393.27 L32.60,390.46 L33.00,387.95 L33.40,384.63 L33.77,379.12 L34.13,371.76 L34.50,364.75 L34.90,357.42 L35.30,352.58 L35.75,359.58 L36.20,369.78 L36.60,378.53 L37.00,386.52 L37.40,390.15 L37.82,388.77 L38.24,386.82 L38.66,383.70 L39.08,380.97 L39.50,377.91 L39.95,375.07 L40.40,371.10 L40.85,368.39 L41.30,367.22 L41.72,368.63 L42.15,373.12 L42.58,378.62 L43.00,383.02 L43.45,387.40 L43.90,392.07 L44.35,396.38 L44.80,398.32 L45.27,399.68 L45.74,400.66 L46.21,401.55 L46.68,402.08 L47.15,403.06 L47.62,403.77 L48.09,403.84 L48.56,404.15 L49.03,404.68 L49.50,404.55 L50.00,404.36 L50.50,404.21 L51.00,404.65 L51.50,404.41 L52.00,404.48 L52.50,404.36 L53.00,404.58 L53.50,404.64 L54.00,404.39 L54.50,404.25 L55.00,404.79 L55.50,404.75 L56.00,404.21 L56.50,404.54 L57.00,404.61 L57.50,404.44 L58.00,404.64 L58.50,404.78 L59.00,404.55 L59.50,404.43 L60.00,404.32 L60.50,404.35 L61.00,404.27 L61.50,404.22 L62.00,404.25 L62.50,404.59 L63.00,404.36 L63.50,404.47 L64.00,404.49 L64.50,404.36 L65.00,403.85 L65.50,404.31 L66.00,403.76 L66.48,404.09 L66.96,404.02 L67.44,403.81 L67.92,403.57 L68.40,403.35 L68.83,403.42 L69.27,403.91 L69.70,403.88 L70.13,404.27 L70.57,404.28 L71.00,404.30 L71.50,404.40 L72.00,404.67 L72.50,404.55 L73.00,404.51 L73.50,404.58 L74.00,404.64 L74.50,404.63 L75.00,404.60 L75.50,404.93 L76.00,404.81 L76.50,404.51 L77.00,404.58 L77.50,404.51 L78.00,404.63 L78.50,404.44 L79.00,404.88 L79.50,404.79 L80.00,404.71 L80.50,405.00 L81.00,404.67 L81.50,404.83 L82.00,405.05 L82.50,404.83 L83.00,404.88 L83.50,404.74 L84.00,405.12 L84.50,404.98 L85.00,404.72 L85.50,404.75 L86.00,404.90 L86.50,404.86 L87.00,404.87 L87.50,404.68 L88.00,404.91 L88.50,404.99 L89.00,405.03 L89.50,404.85 L90.00,404.85 L90.50,404.88 L91.00,404.91 L91.50,404.87 L92.00,404.60 L92.50,404.75 L93.00,405.19 L93.50,405.09 L94.00,404.88 L94.50,405.05 L95.00,404.72 L95.50,404.76 L96.00,404.91 L96.50,405.02 L97.00,404.62 L97.50,404.88 L98.00,405.14 L98.48,404.95 L98.97,405.14 L99.45,404.55 L99.94,404.96 L100.42,404.84 L100.91,404.26 L101.39,404.48 L101.88,404.52 L102.36,404.11 L102.85,404.30 L103.33,404.36 L103.82,404.29 L104.30,404.06 L104.79,403.85 L105.29,404.18 L105.78,404.04 L106.28,404.34 L106.77,404.29 L107.27,404.46 L107.76,404.71 L108.26,405.02 L108.75,405.26 L109.25,405.07 L109.74,404.98 L110.24,405.57 L110.73,405.45 L111.23,405.83 L111.72,405.98 L112.22,405.59 L112.71,406.08 L113.21,405.86 L113.70,405.89 L114.18,405.90 L114.67,406.01 L115.15,405.82 L115.63,405.95 L116.11,405.80 L116.60,405.67 L117.08,405.72 L117.56,405.94 L118.04,405.68 L118.53,405.58 L119.01,405.64 L119.49,405.51 L119.97,405.93 L120.46,405.78 L120.94,405.36 L121.42,405.41 L121.90,405.46 L122.39,405.49 L122.87,405.38 L123.35,405.44 L123.83,405.57 L124.32,405.20 L124.80,405.44 L125.28,405.20 L125.77,405.44 L126.25,405.33 L126.74,405.65 L127.22,405.74 L127.71,405.82 L128.19,405.54 L128.68,405.72 L129.16,405.51 L129.65,405.89 L130.13,405.99 L130.62,405.84 L131.10,405.84 L131.58,406.17 L132.07,406.23 L132.55,406.32 L133.04,406.07 L133.52,406.10 L134.01,406.15 L134.49,406.17 L134.98,406.10 L135.46,406.20 L135.95,406.46 L136.43,406.44 L136.92,406.73 L137.40,406.43 L137.90,406.30 L138.40,406.75 L138.89,406.23 L139.39,406.38 L139.89,406.63 L140.39,406.35 L140.88,406.72 L141.38,406.57 L141.88,406.29 L142.38,406.60 L142.87,406.61 L143.37,406.34 L143.87,406.10 L144.37,406.05 L144.86,406.45 L145.36,406.46 L145.86,406.29 L146.36,406.34 L146.85,406.32 L147.35,405.96 L147.85,405.91 L148.35,406.28 L148.84,406.23 L149.34,405.96 L149.84,405.83 L150.34,405.69 L150.83,405.86 L151.33,406.14 L151.83,405.69 L152.33,405.73 L152.82,405.54 L153.32,405.84 L153.82,405.52 L154.32,405.87 L154.81,405.74 L155.31,405.69 L155.81,405.58 L156.31,405.59 L156.80,405.94 L157.30,405.97 L157.80,405.85 L158.29,405.53 L158.79,405.53 L159.28,405.62 L159.78,405.94 L160.27,405.98 L160.76,405.56 L161.26,405.81 L161.75,405.67 L162.24,405.72 L162.74,405.58 L163.23,405.91 L163.73,405.96 L164.22,406.07 L164.71,405.81 L165.21,405.80 L165.70,405.94 L166.19,405.64 L166.69,406.11 L167.18,406.06 L167.68,405.76 L168.17,405.88 L168.66,405.95 L169.16,406.19 L169.65,406.12 L170.14,405.86 L170.64,406.31 L171.13,406.32 L171.62,406.30 L172.12,406.10 L172.61,406.11 L173.11,406.10 L173.60,406.46 L174.09,406.19 L174.59,406.49 L175.08,406.05 L175.57,405.98 L176.07,406.27 L176.56,406.13 L177.06,406.18 L177.55,406.07 L178.04,406.14 L178.54,406.35 L179.03,406.16 L179.53,406.31 L180.02,406.51 L180.51,406.32 L181.01,406.37 L181.50,406.43" fill="none" stroke="#55aa55" stroke-width="2" stroke-linejoin="round" stroke-linecap="round"/>
<text x="139.8" y="272" font-size="8" fill="#4580c2"><tspan>AA</tspan></text>
<text x="120" y="322" font-size="8" fill="#f39040"><tspan>THF wetted</tspan></text>
<text x="122.9" y="393" font-size="8" fill="#55aa55"><tspan>THF dried</tspan></text>
<text x="0.4" y="239.4" font-size="23" text-anchor="start" fill="#000" >d</text>
<path d="M191.8,271.9 L198.8,271.9 L198.8,362.4 L206.0,362.4 L195.3,382.7 L184.60000000000002,362.4 L191.8,362.4 Z" fill="#a9c0e3"/>
<rect x="497.5" y="10.5" width="162.0" height="178.0" fill="none" stroke="#4d4d4d" stroke-width="1"/>
<line x1="497.5" y1="188.5" x2="497.5" y2="185.5" stroke="#4d4d4d" stroke-width="1"/>
<text x="497.5" y="200.1" font-size="10" text-anchor="middle" fill="#000" >4</text>
<line x1="538.0" y1="188.5" x2="538.0" y2="185.5" stroke="#4d4d4d" stroke-width="1"/>
<text x="538.0" y="200.1" font-size="10" text-anchor="middle" fill="#000" >5</text>
<line x1="578.5" y1="188.5" x2="578.5" y2="185.5" stroke="#4d4d4d" stroke-width="1"/>
<text x="578.5" y="200.1" font-size="10" text-anchor="middle" fill="#000" >6</text>
<line x1="619.0" y1="188.5" x2="619.0" y2="185.5" stroke="#4d4d4d" stroke-width="1"/>
<text x="619.0" y="200.1" font-size="10" text-anchor="middle" fill="#000" >7</text>
<line x1="659.5" y1="188.5" x2="659.5" y2="185.5" stroke="#4d4d4d" stroke-width="1"/>
<text x="659.5" y="200.1" font-size="10" text-anchor="middle" fill="#000" >8</text>
<line x1="517.75" y1="188.5" x2="517.75" y2="187.0" stroke="#4d4d4d" stroke-width="1"/>
<line x1="558.25" y1="188.5" x2="558.25" y2="187.0" stroke="#4d4d4d" stroke-width="1"/>
<line x1="598.75" y1="188.5" x2="598.75" y2="187.0" stroke="#4d4d4d" stroke-width="1"/>
<line x1="639.25" y1="188.5" x2="639.25" y2="187.0" stroke="#4d4d4d" stroke-width="1"/>
<text x="578.5" y="218.8" font-size="13.5" text-anchor="middle" fill="#000" >2θ/°CuKα</text>
<text x="0" y="0" font-size="13.5" text-anchor="middle" fill="#000" transform="translate(490.3,99) rotate(-90)">Intensity/arb. units</text>
<path d="M497.60,60.60 L498.08,60.59 L498.56,60.42 L499.05,60.23 L499.53,60.00 L500.01,60.03 L500.49,59.88 L500.97,59.63 L501.45,59.46 L501.94,59.18 L502.42,58.89 L502.90,58.76 L503.38,58.54 L503.87,58.06 L504.35,57.89 L504.84,57.30 L505.32,56.83 L505.81,56.27 L506.29,56.00 L506.78,55.33 L507.26,54.73 L507.75,53.98 L508.23,53.09 L508.72,52.43 L509.20,51.70 L509.66,50.76 L510.12,50.07 L510.57,48.83 L511.03,47.59 L511.49,46.52 L511.95,44.94 L512.41,43.72 L512.87,42.04 L513.33,40.45 L513.78,38.70 L514.24,37.00 L514.70,35.11 L515.17,32.87 L515.63,30.43 L516.10,27.34 L516.57,24.64 L517.03,21.90 L517.50,20.14 L517.95,18.52 L518.40,16.90 L518.85,15.46 L519.30,14.22 L519.75,13.46 L520.20,12.99 L520.66,13.46 L521.12,14.54 L521.58,15.73 L522.04,17.53 L522.50,19.12 L522.98,20.89 L523.46,23.24 L523.94,25.82 L524.42,28.30 L524.90,30.65 L525.40,32.48 L525.90,34.39 L526.40,36.37 L526.90,38.42 L527.40,40.22 L527.90,41.60 L528.40,42.89 L528.90,43.92 L529.34,44.69 L529.79,45.18 L530.23,45.88 L530.67,46.38 L531.11,46.85 L531.56,47.09 L532.00,47.40 L532.47,47.74 L532.94,48.20 L533.41,48.29 L533.88,48.62 L534.35,48.76 L534.82,48.89 L535.29,49.04 L535.76,49.39 L536.23,49.46 L536.70,49.36 L537.19,49.45 L537.68,49.44 L538.17,49.50 L538.66,49.50 L539.15,49.31 L539.64,49.46 L540.13,49.42 L540.62,49.28 L541.11,49.33 L541.60,49.17 L542.10,49.10 L542.59,49.01 L543.08,49.16 L543.57,48.89 L544.06,48.81 L544.55,48.98 L545.04,48.91 L545.53,48.77 L546.02,48.82 L546.51,48.53 L547.00,48.53 L547.50,48.47 L548.00,48.41 L548.50,48.23 L549.00,48.07 L549.50,48.01 L550.00,48.03 L550.50,47.89 L551.00,47.65 L551.50,47.39 L552.00,47.14 L552.50,47.16 L553.00,46.85 L553.50,46.73 L554.00,46.34 L554.50,46.22 L555.00,46.24 L555.50,46.07 L556.00,45.95 L556.50,45.73 L557.00,45.56 L557.50,45.51 L558.00,45.50 L558.49,45.27 L558.98,45.27 L559.46,45.13 L559.95,45.21 L560.44,44.93 L560.92,45.09 L561.41,45.15 L561.90,44.86 L562.36,45.07 L562.81,45.20 L563.27,45.44 L563.72,45.59 L564.18,45.76 L564.63,46.09 L565.09,46.56 L565.54,46.84 L566.00,46.89 L566.46,47.17 L566.92,47.50 L567.38,47.83 L567.84,48.32 L568.30,48.62 L568.76,49.22 L569.22,49.55 L569.68,49.77 L570.14,50.26 L570.60,50.55 L571.08,50.95 L571.57,51.22 L572.05,51.56 L572.53,51.91 L573.02,52.32 L573.50,52.77 L573.98,53.06 L574.47,53.25 L574.95,53.78 L575.43,54.16 L575.92,54.46 L576.40,54.79 L576.88,54.87 L577.37,55.32 L577.85,55.50 L578.33,56.01 L578.82,56.12 L579.30,56.56 L579.76,56.69 L580.23,57.09 L580.69,57.24 L581.15,57.41 L581.62,57.77 L582.08,57.99 L582.55,58.40 L583.01,58.44 L583.47,58.72 L583.94,58.93 L584.40,59.23 L584.89,59.16 L585.38,59.50 L585.87,59.65 L586.36,59.90 L586.85,60.15 L587.34,60.12 L587.83,60.41 L588.32,60.53 L588.81,60.71 L589.30,60.72 L589.79,61.11 L590.28,61.31 L590.77,61.28 L591.26,61.41 L591.74,61.76 L592.23,61.64 L592.72,61.76 L593.21,61.89 L593.70,62.24 L594.19,62.34 L594.68,62.37 L595.17,62.53 L595.66,62.45 L596.15,62.74 L596.64,62.77 L597.13,62.88 L597.62,62.92 L598.11,63.00 L598.60,63.02 L599.09,63.03 L599.58,63.21 L600.08,63.22 L600.57,63.42 L601.06,63.51 L601.55,63.55 L602.04,63.53 L602.53,63.52 L603.02,63.62 L603.52,63.71 L604.01,63.82 L604.50,63.97 L604.99,63.76 L605.48,63.94 L605.98,64.00 L606.47,64.12 L606.96,64.22 L607.45,64.24 L607.94,64.24 L608.43,64.33 L608.93,64.35 L609.42,64.46 L609.91,64.45 L610.40,64.49 L610.89,64.40 L611.38,64.65 L611.88,64.53 L612.37,64.63 L612.86,64.73 L613.35,64.81 L613.84,64.85 L614.33,64.59 L614.83,64.71 L615.32,64.74 L615.81,64.79 L616.30,64.74 L616.79,64.89 L617.28,64.77 L617.78,64.85 L618.27,65.06 L618.76,65.02 L619.25,64.95 L619.74,64.86 L620.23,65.12 L620.73,65.05 L621.22,64.91 L621.71,64.95 L622.20,65.04 L622.69,65.05 L623.19,64.93 L623.68,65.13 L624.18,64.94 L624.67,64.91 L625.16,65.09 L625.66,64.87 L626.15,65.02 L626.64,64.87 L627.14,64.98 L627.63,64.88 L628.12,64.90 L628.62,65.06 L629.11,64.91 L629.61,64.89 L630.10,64.93 L630.59,64.82 L631.09,64.78 L631.58,64.83 L632.08,64.78 L632.57,64.74 L633.06,64.96 L633.56,64.67 L634.05,64.89 L634.54,64.92 L635.04,64.84 L635.53,64.62 L636.02,64.75 L636.52,64.60 L637.01,64.76 L637.51,64.78 L638.00,64.63 L638.49,64.55 L638.99,64.70 L639.48,64.55 L639.98,64.61 L640.47,64.64 L640.96,64.76 L641.46,64.60 L641.95,64.52 L642.44,64.71 L642.94,64.71 L643.43,64.62 L643.92,64.47 L644.42,64.51 L644.91,64.57 L645.41,64.62 L645.90,64.52 L646.39,64.69 L646.87,64.71 L647.36,64.74 L647.84,64.73 L648.33,64.48 L648.81,64.66 L649.30,64.52 L649.79,64.78 L650.27,64.74 L650.76,64.76 L651.24,64.61 L651.73,64.58 L652.21,64.83 L652.70,64.78 L653.19,64.80 L653.67,64.78 L654.16,64.90 L654.64,64.78 L655.13,64.77 L655.61,64.82 L656.10,64.82 L656.59,64.94 L657.07,65.04 L657.56,64.81 L658.04,64.82 L658.53,64.97 L659.01,65.04 L659.50,64.91" fill="none" stroke="#55aa55" stroke-width="1.4" stroke-linejoin="round" stroke-linecap="round"/>
<path d="M497.60,118.02 L498.04,117.89 L498.47,117.58 L498.91,115.48 L499.34,116.54 L499.78,115.98 L500.21,116.08 L500.65,114.96 L501.09,114.94 L501.52,115.36 L501.96,114.63 L502.39,114.98 L502.83,113.71 L503.26,113.60 L503.70,114.80 L504.13,113.76 L504.57,113.54 L505.00,113.56 L505.43,112.08 L505.87,110.71 L506.30,111.76 L506.73,110.56 L507.17,109.96 L507.60,109.09 L508.04,109.08 L508.49,106.68 L508.93,106.60 L509.37,104.55 L509.81,103.84 L510.26,102.76 L510.70,100.55 L511.14,98.42 L511.59,97.49 L512.03,96.00 L512.48,93.49 L512.92,90.88 L513.37,89.10 L513.81,85.82 L514.26,83.81 L514.70,82.38 L515.13,81.88 L515.57,78.61 L516.00,76.61 L516.43,74.82 L516.87,73.06 L517.30,72.23 L517.73,71.85 L518.17,71.73 L518.60,70.29 L519.00,70.48 L519.40,70.52 L519.80,70.91 L520.20,72.47 L520.64,72.89 L521.09,73.97 L521.53,75.90 L521.97,80.09 L522.41,82.46 L522.86,85.04 L523.30,85.37 L523.74,87.47 L524.19,89.64 L524.63,90.05 L525.08,92.02 L525.52,91.19 L525.97,94.09 L526.41,92.77 L526.86,94.45 L527.30,94.26 L527.73,96.84 L528.15,97.25 L528.58,98.64 L529.01,98.92 L529.44,99.91 L529.86,99.52 L530.29,101.12 L530.72,100.98 L531.15,100.35 L531.57,102.06 L532.00,100.70 L532.43,100.22 L532.86,99.82 L533.29,100.57 L533.72,99.71 L534.15,101.24 L534.58,101.04 L535.01,99.06 L535.44,98.61 L535.87,99.51 L536.30,98.61 L536.70,99.60 L537.10,100.50 L537.50,99.53 L537.90,100.38 L538.30,101.99 L538.70,101.34 L539.10,101.47 L539.50,103.05 L539.90,102.95 L540.32,103.11 L540.74,102.50 L541.16,101.66 L541.58,102.10 L542.00,102.15 L542.42,101.37 L542.84,100.06 L543.26,99.82 L543.68,99.71 L544.10,100.18 L544.52,99.28 L544.94,98.89 L545.36,99.20 L545.78,97.15 L546.20,98.11 L546.62,97.14 L547.05,97.43 L547.47,97.85 L547.89,96.21 L548.32,97.66 L548.74,95.34 L549.16,96.27 L549.58,95.99 L550.01,95.02 L550.43,95.55 L550.85,95.08 L551.28,94.76 L551.70,95.12 L552.13,93.08 L552.55,93.57 L552.98,94.11 L553.41,92.09 L553.84,93.36 L554.26,91.31 L554.69,92.03 L555.12,90.45 L555.55,90.83 L555.97,90.58 L556.40,89.70 L556.84,91.21 L557.29,90.76 L557.73,91.39 L558.18,91.20 L558.62,91.44 L559.07,91.60 L559.51,91.30 L559.96,93.00 L560.40,91.31 L560.84,93.51 L561.27,93.88 L561.71,93.48 L562.15,94.69 L562.59,95.05 L563.02,95.53 L563.46,95.46 L563.90,96.23 L564.34,97.02 L564.77,97.62 L565.21,99.90 L565.65,99.09 L566.09,99.84 L566.52,100.51 L566.96,102.00 L567.40,101.65 L567.82,102.23 L568.24,101.90 L568.66,102.33 L569.08,102.24 L569.50,102.90 L569.92,103.35 L570.34,105.09 L570.76,104.57 L571.18,103.93 L571.60,105.08 L572.02,104.54 L572.44,105.89 L572.86,105.86 L573.28,107.11 L573.70,105.92 L574.13,107.59 L574.57,106.38 L575.00,108.38 L575.44,107.76 L575.88,106.56 L576.31,108.61 L576.75,107.54 L577.18,107.94 L577.62,107.62 L578.05,109.47 L578.49,107.86 L578.92,109.60 L579.36,108.97 L579.79,109.83 L580.23,109.08 L580.66,108.75 L581.10,110.94 L581.53,110.50 L581.97,109.52 L582.40,111.64 L582.84,111.68 L583.28,110.11 L583.72,109.90 L584.16,111.51 L584.61,110.55 L585.05,112.15 L585.49,111.70 L585.93,112.45 L586.37,112.29 L586.81,112.95 L587.25,113.25 L587.69,112.90 L588.14,113.06 L588.58,112.61 L589.02,112.33 L589.46,112.42 L589.90,114.46 L590.34,113.09 L590.77,113.83 L591.21,113.78 L591.64,114.72 L592.08,114.73 L592.51,115.74 L592.95,114.95 L593.38,115.00 L593.82,115.92 L594.25,116.37 L594.69,117.03 L595.12,115.78 L595.56,117.38 L595.99,117.83 L596.43,118.04 L596.86,116.21 L597.30,117.01 L597.73,118.16 L598.17,118.49 L598.61,116.78 L599.04,117.82 L599.47,118.79 L599.91,119.06 L600.35,118.70 L600.78,118.10 L601.21,118.75 L601.65,118.09 L602.09,118.88 L602.52,119.33 L602.95,120.46 L603.39,120.08 L603.83,119.84 L604.26,119.62 L604.69,119.97 L605.13,121.02 L605.57,120.67 L606.00,120.22 L606.44,121.99 L606.89,121.63 L607.33,122.82 L607.77,122.05 L608.21,122.52 L608.66,122.32 L609.10,123.02 L609.54,124.02 L609.99,124.41 L610.43,123.87 L610.87,123.51 L611.31,122.80 L611.76,124.81 L612.20,123.84 L612.64,123.90 L613.09,123.20 L613.53,123.23 L613.97,124.16 L614.41,125.64 L614.86,125.15 L615.30,125.15 L615.74,125.13 L616.19,124.25 L616.63,124.07 L617.07,125.17 L617.51,123.95 L617.96,125.27 L618.40,125.15 L618.84,125.28 L619.29,124.33 L619.73,124.25 L620.17,125.28 L620.61,124.55 L621.06,125.78 L621.50,125.04 L621.94,125.83 L622.39,126.18 L622.83,125.88 L623.27,125.74 L623.71,124.97 L624.16,125.37 L624.60,126.92 L625.04,125.25 L625.49,125.31 L625.93,125.84 L626.37,125.99 L626.81,126.60 L627.26,125.43 L627.70,127.05 L628.14,124.81 L628.59,126.67 L629.03,126.15 L629.47,126.95 L629.91,125.16 L630.36,126.45 L630.80,127.07 L631.24,126.40 L631.69,125.07 L632.13,127.01 L632.57,127.12 L633.01,125.05 L633.46,126.77 L633.90,124.97 L634.34,124.96 L634.79,126.67 L635.23,126.48 L635.67,127.04 L636.11,126.25 L636.56,125.95 L637.00,125.36 L637.44,126.07 L637.89,127.06 L638.33,126.22 L638.77,126.75 L639.21,125.11 L639.66,126.39 L640.10,126.36 L640.54,124.76 L640.99,126.54 L641.43,124.98 L641.87,125.06 L642.31,124.67 L642.76,126.09 L643.20,124.82 L643.64,126.80 L644.09,124.44 L644.53,126.37 L644.97,126.23 L645.41,125.75 L645.86,125.74 L646.30,126.26 L646.74,125.85 L647.19,124.64 L647.63,126.19 L648.07,125.11 L648.51,125.64 L648.96,125.45 L649.40,126.37 L649.84,125.17 L650.28,126.20 L650.72,124.33 L651.16,124.89 L651.60,125.69 L652.03,125.52 L652.47,126.02 L652.91,124.49 L653.35,125.89 L653.79,125.84 L654.23,124.24 L654.67,124.20 L655.11,125.23 L655.55,126.14 L655.99,125.24 L656.43,124.76 L656.87,124.91 L657.30,125.60 L657.74,124.88 L658.18,124.88 L658.62,124.99 L659.06,125.77 L659.50,125.42" fill="none" stroke="#f39040" stroke-width="1.4" stroke-linejoin="round" stroke-linecap="round"/>
<path d="M497.60,177.96 L498.08,177.87 L498.56,177.61 L499.05,177.18 L499.53,177.15 L500.01,176.85 L500.49,176.43 L500.97,176.45 L501.45,175.98 L501.94,175.70 L502.42,175.42 L502.90,175.13 L503.38,174.60 L503.87,174.35 L504.35,173.94 L504.84,173.35 L505.32,172.90 L505.81,172.28 L506.29,171.73 L506.78,170.89 L507.26,170.26 L507.75,169.58 L508.23,168.71 L508.72,168.17 L509.20,167.24 L509.66,166.22 L510.12,165.41 L510.57,164.31 L511.03,163.11 L511.49,161.88 L511.95,160.67 L512.41,159.17 L512.87,157.88 L513.33,156.36 L513.78,154.68 L514.24,153.28 L514.70,151.36 L515.17,149.45 L515.63,147.34 L516.10,144.68 L516.57,142.26 L517.03,139.98 L517.50,137.98 L517.95,136.23 L518.40,134.39 L518.85,132.64 L519.30,131.05 L519.75,130.27 L520.20,129.73 L520.66,130.07 L521.12,131.23 L521.58,132.83 L522.04,134.43 L522.50,135.99 L522.98,137.73 L523.46,139.65 L523.94,141.90 L524.42,143.95 L524.90,145.87 L525.40,147.96 L525.90,150.14 L526.40,152.53 L526.90,154.76 L527.40,156.73 L527.90,158.35 L528.40,159.77 L528.90,161.04 L529.38,161.60 L529.87,162.25 L530.35,163.03 L530.84,163.67 L531.32,164.22 L531.81,164.72 L532.29,165.15 L532.78,165.63 L533.26,165.98 L533.75,166.35 L534.23,166.51 L534.72,166.66 L535.20,166.95 L535.70,166.75 L536.20,167.00 L536.70,166.95 L537.20,167.12 L537.70,167.13 L538.20,167.13 L538.70,167.17 L539.20,167.09 L539.70,167.04 L540.20,167.27 L540.70,167.13 L541.19,167.07 L541.69,167.24 L542.18,167.11 L542.68,166.86 L543.17,166.90 L543.67,166.68 L544.16,166.75 L544.66,166.42 L545.15,166.46 L545.65,166.20 L546.14,165.86 L546.64,165.78 L547.13,165.77 L547.63,165.50 L548.12,165.16 L548.62,165.05 L549.11,164.85 L549.61,164.63 L550.10,164.63 L550.59,164.50 L551.08,164.19 L551.57,164.11 L552.06,164.01 L552.55,163.82 L553.04,163.40 L553.53,163.16 L554.02,163.21 L554.51,162.82 L555.00,162.57 L555.50,162.56 L555.99,162.21 L556.48,162.16 L556.97,161.99 L557.46,161.71 L557.95,161.63 L558.44,161.46 L558.93,161.52 L559.42,161.29 L559.91,161.25 L560.40,161.41 L560.90,161.26 L561.40,161.38 L561.90,161.52 L562.40,161.52 L562.90,161.79 L563.40,162.14 L563.90,162.44 L564.40,162.49 L564.90,162.78 L565.40,162.91 L565.90,163.30 L566.39,163.53 L566.88,163.90 L567.36,164.20 L567.85,164.61 L568.34,165.23 L568.83,165.65 L569.31,166.01 L569.80,166.42 L570.29,166.91 L570.77,167.42 L571.26,167.91 L571.75,168.52 L572.24,168.95 L572.73,169.26 L573.21,169.87 L573.70,170.15 L574.20,170.49 L574.70,170.86 L575.20,170.99 L575.70,171.47 L576.20,171.78 L576.70,172.04 L577.20,172.05 L577.70,172.55 L578.20,172.85 L578.70,172.84 L579.20,173.30 L579.70,173.53 L580.20,173.52 L580.70,173.94 L581.20,174.18 L581.68,174.38 L582.17,174.37 L582.65,174.85 L583.13,174.77 L583.62,174.97 L584.10,175.41 L584.58,175.45 L585.07,175.54 L585.55,175.78 L586.03,176.02 L586.52,176.08 L587.00,176.44 L587.48,176.52 L587.97,176.59 L588.45,176.73 L588.93,176.81 L589.42,177.21 L589.90,177.14 L590.40,177.47 L590.89,177.49 L591.39,177.63 L591.88,177.65 L592.38,177.89 L592.88,177.90 L593.37,178.14 L593.87,178.32 L594.36,178.54 L594.86,178.46 L595.36,178.57 L595.85,178.87 L596.35,178.79 L596.84,178.93 L597.34,179.12 L597.84,179.22 L598.33,179.49 L598.83,179.31 L599.32,179.65 L599.82,179.62 L600.32,179.60 L600.81,179.71 L601.31,179.99 L601.80,179.84 L602.30,179.98 L602.79,179.92 L603.28,180.11 L603.76,180.23 L604.25,180.30 L604.74,180.23 L605.23,180.31 L605.72,180.48 L606.20,180.54 L606.69,180.46 L607.18,180.39 L607.67,180.70 L608.15,180.56 L608.64,180.64 L609.13,180.56 L609.62,180.59 L610.11,180.66 L610.59,180.82 L611.08,180.77 L611.57,180.97 L612.06,180.81 L612.55,181.00 L613.03,180.84 L613.52,180.97 L614.01,181.18 L614.50,181.01 L614.98,181.05 L615.47,181.00 L615.96,181.28 L616.45,181.19 L616.94,181.15 L617.42,181.27 L617.91,181.20 L618.40,181.42 L618.89,181.30 L619.38,181.22 L619.87,181.29 L620.36,181.27 L620.85,181.51 L621.34,181.34 L621.83,181.48 L622.32,181.53 L622.81,181.41 L623.29,181.60 L623.78,181.62 L624.27,181.74 L624.76,181.76 L625.25,181.80 L625.74,181.69 L626.23,181.70 L626.72,181.71 L627.21,181.64 L627.70,181.80 L628.19,181.94 L628.68,181.81 L629.17,181.94 L629.66,181.78 L630.15,181.83 L630.64,181.86 L631.13,182.04 L631.62,181.88 L632.11,182.01 L632.59,181.84 L633.08,182.03 L633.57,181.96 L634.06,182.12 L634.55,181.84 L635.04,181.92 L635.53,182.11 L636.02,181.98 L636.51,181.93 L637.00,182.11 L637.50,181.98 L638.00,182.11 L638.50,182.01 L639.00,181.86 L639.50,181.87 L640.00,182.10 L640.50,182.11 L641.00,181.88 L641.50,182.12 L642.00,182.07 L642.50,181.97 L643.00,182.03 L643.50,181.95 L644.00,181.79 L644.50,181.86 L645.00,181.87 L645.50,182.03 L646.00,181.83 L646.50,181.95 L647.00,181.92 L647.50,181.75 L648.00,181.84 L648.50,181.86 L649.00,181.90 L649.50,181.78 L650.00,181.96 L650.50,181.89 L651.00,181.64 L651.50,181.89 L652.00,181.80 L652.50,181.88 L653.00,181.66 L653.50,181.81 L654.00,181.78 L654.50,181.67 L655.00,181.65 L655.50,181.71 L656.00,181.81 L656.50,181.72 L657.00,181.69 L657.50,181.69 L658.00,181.73 L658.50,181.65 L659.00,181.67 L659.50,181.46" fill="none" stroke="#55aa55" stroke-width="1.4" stroke-linejoin="round" stroke-linecap="round"/>
<text x="615.4" y="54.5" font-size="8.3" fill="#55aa55"><tspan>Inclined</tspan></text>
<text x="604.6" y="112.6" font-size="8.3" fill="#f39040"><tspan>H</tspan><tspan font-size="5.64" dy="2">2</tspan><tspan dy="-2">O Vapor</tspan></text>
<text x="612.0" y="174.7" font-size="8.4" fill="#55aa55"><tspan>Vacuum</tspan></text>
<text x="479.6" y="13.8" font-size="23" text-anchor="start" fill="#000" >c</text>
<path d="M671.0,36.6 L678.0,36.6 L678.0,127 L685.2,127 L674.5,147.6 L663.8,127 L671.0,127 Z" fill="#bcdba8"/>
<rect x="497.5" y="233.5" width="162.0" height="176.8" fill="none" stroke="#4d4d4d" stroke-width="1"/>
<line x1="497.5" y1="410.3" x2="497.5" y2="407.3" stroke="#4d4d4d" stroke-width="1"/>
<text x="497.5" y="422" font-size="10" text-anchor="middle" fill="#000" >4</text>
<line x1="538.0" y1="410.3" x2="538.0" y2="407.3" stroke="#4d4d4d" stroke-width="1"/>
<text x="538.0" y="422" font-size="10" text-anchor="middle" fill="#000" >5</text>
<line x1="578.5" y1="410.3" x2="578.5" y2="407.3" stroke="#4d4d4d" stroke-width="1"/>
<text x="578.5" y="422" font-size="10" text-anchor="middle" fill="#000" >6</text>
<line x1="619.0" y1="410.3" x2="619.0" y2="407.3" stroke="#4d4d4d" stroke-width="1"/>
<text x="619.0" y="422" font-size="10" text-anchor="middle" fill="#000" >7</text>
<line x1="659.5" y1="410.3" x2="659.5" y2="407.3" stroke="#4d4d4d" stroke-width="1"/>
<text x="659.5" y="422" font-size="10" text-anchor="middle" fill="#000" >8</text>
<line x1="517.75" y1="410.3" x2="517.75" y2="408.8" stroke="#4d4d4d" stroke-width="1"/>
<line x1="558.25" y1="410.3" x2="558.25" y2="408.8" stroke="#4d4d4d" stroke-width="1"/>
<line x1="598.75" y1="410.3" x2="598.75" y2="408.8" stroke="#4d4d4d" stroke-width="1"/>
<line x1="639.25" y1="410.3" x2="639.25" y2="408.8" stroke="#4d4d4d" stroke-width="1"/>
<text x="578.5" y="440" font-size="13.5" text-anchor="middle" fill="#000" >2θ/°CuKα</text>
<text x="0" y="0" font-size="13.5" text-anchor="middle" fill="#000" transform="translate(490.3,318.6) rotate(-90)">Intensity/arb. units</text>
<path d="M497.60,277.90 L498.06,277.41 L498.53,276.98 L498.99,276.57 L499.45,275.99 L499.91,275.49 L500.38,274.96 L500.84,274.45 L501.30,273.63 L501.77,272.91 L502.24,271.92 L502.71,270.72 L503.18,269.58 L503.65,268.23 L504.12,266.79 L504.59,265.39 L505.06,263.62 L505.53,261.93 L506.00,260.39 L506.50,258.09 L507.00,255.38 L507.50,252.51 L508.00,249.65 L508.50,247.17 L509.00,244.94 L509.44,243.36 L509.88,241.84 L510.32,240.46 L510.76,239.56 L511.20,239.17 L511.62,239.36 L512.04,240.12 L512.46,241.37 L512.88,242.72 L513.30,243.91 L513.74,245.82 L514.18,248.15 L514.62,250.69 L515.06,253.19 L515.50,255.66 L515.99,258.11 L516.48,260.59 L516.96,263.27 L517.45,265.71 L517.94,268.00 L518.42,270.11 L518.91,271.78 L519.40,272.98 L519.87,273.89 L520.35,274.75 L520.82,275.54 L521.29,276.26 L521.77,276.94 L522.24,277.52 L522.71,278.00 L523.19,278.50 L523.66,279.06 L524.13,279.47 L524.61,279.87 L525.08,280.07 L525.55,280.36 L526.03,280.72 L526.50,280.82 L526.98,280.97 L527.47,280.98 L527.95,281.17 L528.44,281.39 L528.92,281.45 L529.41,281.63 L529.89,281.58 L530.38,281.73 L530.86,281.89 L531.35,281.91 L531.83,282.06 L532.32,282.10 L532.80,282.08 L533.28,282.15 L533.77,282.39 L534.25,282.28 L534.74,282.35 L535.22,282.42 L535.71,282.55 L536.19,282.62 L536.68,282.58 L537.16,282.61 L537.65,282.70 L538.13,282.62 L538.62,282.66 L539.10,282.72 L539.60,282.74 L540.10,282.63 L540.60,282.66 L541.10,282.68 L541.59,282.81 L542.09,282.81 L542.59,282.88 L543.09,282.85 L543.59,282.76 L544.09,282.87 L544.59,282.92 L545.09,282.80 L545.58,282.75 L546.08,282.83 L546.58,282.82 L547.08,282.81 L547.58,282.79 L548.08,282.81 L548.58,282.97 L549.08,282.81 L549.57,282.93 L550.07,282.86 L550.57,282.86 L551.07,282.99 L551.57,282.89 L552.07,282.88 L552.57,282.94 L553.07,282.99 L553.56,282.96 L554.06,283.04 L554.56,282.95 L555.06,282.98 L555.56,283.02 L556.06,282.98 L556.56,283.03 L557.06,282.99 L557.55,282.93 L558.05,282.93 L558.55,283.06 L559.05,283.06 L559.55,283.10 L560.05,283.06 L560.55,283.04 L561.05,282.96 L561.55,283.10 L562.04,282.96 L562.54,283.02 L563.04,282.97 L563.54,283.02 L564.04,283.01 L564.54,283.04 L565.04,283.10 L565.54,283.07 L566.03,283.01 L566.53,283.12 L567.03,283.12 L567.53,283.14 L568.03,282.99 L568.53,283.11 L569.03,283.17 L569.53,283.04 L570.02,283.04 L570.52,283.16 L571.02,283.08 L571.52,283.09 L572.02,283.18 L572.52,283.09 L573.02,283.06 L573.52,283.07 L574.01,283.10 L574.51,283.18 L575.01,283.11 L575.51,283.20 L576.01,283.06 L576.51,283.11 L577.01,283.19 L577.51,283.16 L578.00,283.17 L578.50,283.27 L579.00,283.14 L579.50,283.13 L580.00,283.11 L580.50,283.20 L580.99,283.17 L581.49,283.22 L581.98,283.13 L582.48,283.14 L582.97,283.22 L583.47,283.31 L583.96,283.22 L584.46,283.35 L584.95,283.30 L585.45,283.27 L585.94,283.35 L586.44,283.26 L586.94,283.34 L587.43,283.40 L587.93,283.35 L588.42,283.31 L588.92,283.28 L589.41,283.38 L589.91,283.32 L590.40,283.36 L590.90,283.41 L591.39,283.50 L591.89,283.45 L592.38,283.43 L592.88,283.51 L593.38,283.41 L593.87,283.44 L594.37,283.51 L594.86,283.49 L595.36,283.43 L595.85,283.48 L596.35,283.57 L596.84,283.47 L597.34,283.57 L597.83,283.45 L598.33,283.64 L598.82,283.59 L599.32,283.53 L599.82,283.67 L600.31,283.64 L600.81,283.50 L601.30,283.55 L601.80,283.61 L602.29,283.72 L602.79,283.55 L603.28,283.54 L603.78,283.60 L604.27,283.55 L604.77,283.63 L605.26,283.66 L605.76,283.65 L606.26,283.60 L606.75,283.58 L607.25,283.74 L607.74,283.67 L608.24,283.68 L608.73,283.68 L609.23,283.73 L609.72,283.77 L610.22,283.76 L610.71,283.74 L611.21,283.67 L611.70,283.63 L612.20,283.62 L612.70,283.77 L613.19,283.61 L613.69,283.70 L614.19,283.76 L614.68,283.64 L615.18,283.64 L615.68,283.63 L616.17,283.72 L616.67,283.65 L617.17,283.67 L617.66,283.49 L618.16,283.60 L618.66,283.52 L619.15,283.49 L619.65,283.54 L620.15,283.50 L620.64,283.50 L621.14,283.43 L621.64,283.43 L622.13,283.30 L622.63,283.29 L623.13,283.30 L623.62,283.20 L624.12,283.09 L624.62,283.14 L625.11,283.16 L625.61,283.11 L626.11,282.92 L626.60,282.92 L627.10,282.85 L627.60,282.81 L628.10,282.85 L628.60,282.65 L629.10,282.51 L629.60,282.38 L630.10,282.27 L630.60,282.17 L631.10,281.96 L631.60,281.77 L632.10,281.63 L632.60,281.48 L633.10,281.47 L633.60,281.18 L634.10,281.17 L634.60,280.92 L635.08,280.95 L635.55,280.73 L636.03,280.71 L636.51,280.52 L636.98,280.32 L637.46,280.21 L637.94,280.24 L638.42,280.08 L638.89,279.98 L639.37,279.88 L639.85,279.89 L640.32,279.81 L640.80,279.71 L641.28,279.84 L641.76,279.86 L642.23,280.07 L642.71,280.16 L643.19,280.38 L643.67,280.44 L644.14,280.78 L644.62,280.99 L645.10,281.28 L645.58,281.53 L646.06,281.70 L646.53,281.95 L647.01,282.20 L647.49,282.31 L647.97,282.55 L648.44,282.75 L648.92,282.83 L649.40,282.91 L649.88,283.03 L650.36,283.11 L650.84,283.02 L651.32,283.03 L651.80,283.19 L652.29,283.14 L652.77,283.34 L653.25,283.28 L653.73,283.32 L654.21,283.41 L654.69,283.46 L655.17,283.34 L655.65,283.43 L656.13,283.41 L656.61,283.49 L657.10,283.46 L657.58,283.64 L658.06,283.57 L658.54,283.61 L659.02,283.74 L659.50,283.76" fill="none" stroke="#4580c2" stroke-width="1.4" stroke-linejoin="round" stroke-linecap="round"/>
<path d="M497.60,333.41 L498.01,333.30 L498.42,333.41 L498.83,332.36 L499.24,332.78 L499.66,332.97 L500.07,332.78 L500.48,331.39 L500.89,331.86 L501.30,331.49 L501.73,330.87 L502.15,331.04 L502.58,329.65 L503.01,328.72 L503.44,328.63 L503.86,327.17 L504.29,325.61 L504.72,324.54 L505.15,323.74 L505.57,321.91 L506.00,321.67 L506.43,320.62 L506.85,318.63 L507.28,317.63 L507.71,315.99 L508.14,313.56 L508.56,311.95 L508.99,309.31 L509.42,307.61 L509.85,307.70 L510.27,305.46 L510.70,304.54 L511.14,305.00 L511.59,304.16 L512.03,302.58 L512.48,302.38 L512.92,301.80 L513.37,301.47 L513.81,300.76 L514.26,301.40 L514.70,300.99 L515.10,301.29 L515.50,301.30 L515.90,301.52 L516.30,301.55 L516.68,302.74 L517.07,302.15 L517.45,301.35 L517.83,300.14 L518.22,299.79 L518.60,299.59 L519.03,300.00 L519.45,299.86 L519.88,300.64 L520.31,301.09 L520.74,301.74 L521.16,303.24 L521.59,303.75 L522.02,304.64 L522.45,305.34 L522.87,306.51 L523.30,307.76 L523.73,307.92 L524.16,308.61 L524.59,310.47 L525.02,311.60 L525.45,313.60 L525.88,313.93 L526.32,316.56 L526.75,316.58 L527.18,318.78 L527.61,319.89 L528.04,320.87 L528.47,322.83 L528.90,323.42 L529.34,323.38 L529.79,324.72 L530.23,325.70 L530.67,325.54 L531.12,326.38 L531.56,327.92 L532.01,328.82 L532.45,329.05 L532.89,329.60 L533.34,330.32 L533.78,330.47 L534.23,331.94 L534.67,332.53 L535.11,332.15 L535.56,331.75 L536.00,332.64 L536.44,333.53 L536.88,333.01 L537.32,332.89 L537.76,333.25 L538.20,334.32 L538.64,334.39 L539.08,334.07 L539.52,334.81 L539.96,335.23 L540.40,335.74 L540.84,335.71 L541.28,335.24 L541.72,336.00 L542.16,336.34 L542.60,336.38 L543.04,336.32 L543.48,336.18 L543.92,336.16 L544.36,336.80 L544.80,336.51 L545.24,336.73 L545.68,336.00 L546.12,335.82 L546.56,336.12 L547.00,336.63 L547.44,336.62 L547.88,336.02 L548.32,336.00 L548.76,337.22 L549.20,335.81 L549.64,337.18 L550.08,336.94 L550.52,336.62 L550.96,337.29 L551.40,336.79 L551.84,335.71 L552.28,337.20 L552.72,336.36 L553.16,337.17 L553.60,337.00 L554.04,335.92 L554.48,335.76 L554.92,335.73 L555.36,336.95 L555.80,336.97 L556.24,336.06 L556.68,335.88 L557.12,336.29 L557.56,336.98 L558.00,336.89 L558.45,337.08 L558.89,337.23 L559.34,336.87 L559.79,336.98 L560.24,335.63 L560.68,335.58 L561.13,336.91 L561.58,336.47 L562.03,335.95 L562.47,335.57 L562.92,335.83 L563.37,335.78 L563.82,335.96 L564.26,335.81 L564.71,335.34 L565.16,335.07 L565.61,335.19 L566.05,334.99 L566.50,334.86 L566.95,335.28 L567.39,334.74 L567.84,335.73 L568.29,335.25 L568.74,335.03 L569.18,335.24 L569.63,334.51 L570.08,334.10 L570.53,334.12 L570.97,334.46 L571.42,334.43 L571.87,334.20 L572.32,334.23 L572.76,335.02 L573.21,333.65 L573.66,334.31 L574.11,334.17 L574.55,333.98 L575.00,334.66 L575.45,333.84 L575.90,333.53 L576.35,333.69 L576.80,334.98 L577.25,333.95 L577.70,333.56 L578.15,334.91 L578.60,334.37 L579.05,334.85 L579.50,333.83 L579.95,334.58 L580.40,333.33 L580.85,333.63 L581.30,334.51 L581.75,334.05 L582.20,334.47 L582.65,333.81 L583.10,334.58 L583.55,333.29 L584.00,334.15 L584.45,333.45 L584.90,333.46 L585.35,334.54 L585.80,333.81 L586.25,334.42 L586.70,333.56 L587.15,334.27 L587.60,334.55 L588.05,334.10 L588.50,333.48 L588.95,334.17 L589.40,334.64 L589.85,334.41 L590.30,333.87 L590.74,333.82 L591.19,333.38 L591.64,334.49 L592.09,333.56 L592.54,333.71 L592.99,333.47 L593.44,333.74 L593.89,334.16 L594.34,334.38 L594.78,333.97 L595.23,334.45 L595.68,335.06 L596.13,334.09 L596.58,334.24 L597.03,334.94 L597.48,335.65 L597.93,335.76 L598.38,335.30 L598.82,334.63 L599.27,335.98 L599.72,336.27 L600.17,336.21 L600.62,335.72 L601.07,335.59 L601.52,336.01 L601.97,336.44 L602.42,336.86 L602.86,336.15 L603.31,336.27 L603.76,336.05 L604.21,336.51 L604.66,336.60 L605.11,336.27 L605.56,336.64 L606.01,337.45 L606.46,336.44 L606.90,336.55 L607.35,336.70 L607.80,337.65 L608.25,336.83 L608.70,337.72 L609.15,337.94 L609.60,337.92 L610.05,337.86 L610.50,336.95 L610.95,337.42 L611.40,338.08 L611.85,337.22 L612.30,337.85 L612.75,338.34 L613.20,338.51 L613.65,337.64 L614.10,337.33 L614.55,337.25 L615.00,337.76 L615.45,338.19 L615.90,337.81 L616.35,338.74 L616.80,338.51 L617.25,338.51 L617.70,338.89 L618.15,338.13 L618.60,338.68 L619.05,338.24 L619.50,338.17 L619.95,337.92 L620.40,339.02 L620.85,339.22 L621.30,337.84 L621.75,338.94 L622.20,337.90 L622.63,338.47 L623.06,338.30 L623.50,339.23 L623.93,338.47 L624.36,338.57 L624.79,338.31 L625.22,338.13 L625.65,338.08 L626.09,337.77 L626.52,337.66 L626.95,338.48 L627.38,338.75 L627.81,338.60 L628.25,337.91 L628.68,339.03 L629.11,337.53 L629.54,338.05 L629.97,337.84 L630.40,337.55 L630.84,338.75 L631.27,338.30 L631.70,337.31 L632.15,337.31 L632.59,338.23 L633.04,337.42 L633.49,337.17 L633.93,337.01 L634.38,336.89 L634.83,337.13 L635.27,336.49 L635.72,336.73 L636.17,335.66 L636.61,336.20 L637.06,336.04 L637.51,335.39 L637.95,336.03 L638.40,335.89 L638.84,335.18 L639.27,334.46 L639.71,333.68 L640.14,334.00 L640.58,333.01 L641.01,332.36 L641.45,332.50 L641.89,331.53 L642.32,331.83 L642.76,331.66 L643.19,330.16 L643.63,330.92 L644.06,330.06 L644.50,330.24 L644.94,330.87 L645.37,331.30 L645.81,330.33 L646.24,331.12 L646.68,330.58 L647.11,331.66 L647.55,330.58 L647.98,331.52 L648.42,330.76 L648.85,331.70 L649.29,332.18 L649.72,332.64 L650.16,332.59 L650.59,332.44 L651.03,332.38 L651.46,332.93 L651.90,333.14 L652.35,333.26 L652.79,333.61 L653.24,333.86 L653.69,334.37 L654.14,334.07 L654.58,334.70 L655.03,334.70 L655.48,334.35 L655.92,335.26 L656.37,334.79 L656.82,335.76 L657.26,336.07 L657.71,336.33 L658.16,336.58 L658.61,336.46 L659.05,336.38 L659.50,336.26" fill="none" stroke="#f39040" stroke-width="1.4" stroke-linejoin="round" stroke-linecap="round"/>
<path d="M497.60,395.11 L498.08,394.92 L498.56,394.67 L499.05,394.47 L499.53,394.06 L500.01,394.03 L500.49,393.67 L500.97,393.47 L501.45,393.20 L501.94,392.97 L502.42,392.47 L502.90,392.16 L503.38,391.90 L503.87,391.48 L504.35,391.13 L504.84,390.58 L505.32,390.30 L505.81,389.53 L506.29,389.22 L506.78,388.56 L507.26,387.86 L507.75,387.42 L508.23,386.56 L508.72,385.89 L509.20,385.15 L509.66,384.23 L510.12,383.16 L510.57,381.89 L511.03,380.74 L511.49,379.02 L511.95,377.49 L512.41,375.86 L512.87,374.51 L513.33,372.83 L513.78,371.40 L514.24,370.03 L514.70,368.60 L515.20,367.17 L515.70,365.65 L516.20,364.04 L516.70,362.57 L517.20,361.19 L517.70,359.69 L518.20,358.59 L518.70,357.72 L519.20,357.11 L519.70,356.85 L520.17,357.03 L520.65,357.49 L521.12,358.49 L521.59,359.81 L522.06,361.07 L522.54,362.66 L523.01,364.14 L523.48,365.86 L523.95,367.33 L524.43,368.97 L524.90,370.29 L525.40,371.41 L525.90,373.06 L526.40,374.38 L526.90,376.11 L527.40,377.27 L527.90,378.49 L528.40,379.76 L528.90,380.43 L529.40,380.85 L529.90,381.55 L530.40,382.19 L530.90,382.50 L531.40,383.15 L531.90,383.45 L532.40,383.90 L532.90,384.25 L533.40,384.48 L533.90,384.87 L534.40,385.15 L534.90,385.38 L535.40,385.51 L535.90,385.50 L536.39,385.71 L536.89,385.69 L537.38,385.94 L537.88,385.77 L538.37,386.03 L538.86,385.88 L539.36,386.08 L539.85,386.06 L540.34,386.14 L540.84,386.25 L541.33,386.31 L541.82,386.10 L542.32,386.39 L542.81,386.33 L543.31,386.18 L543.80,386.36 L544.30,386.38 L544.80,386.21 L545.30,386.31 L545.80,386.02 L546.30,386.02 L546.80,385.85 L547.30,385.90 L547.80,385.61 L548.30,385.46 L548.80,385.54 L549.30,385.21 L549.80,385.07 L550.30,384.99 L550.80,384.68 L551.30,384.72 L551.80,384.54 L552.30,384.34 L552.80,384.31 L553.30,384.21 L553.78,383.87 L554.26,384.01 L554.73,383.75 L555.21,383.70 L555.69,383.54 L556.17,383.49 L556.64,383.30 L557.12,383.01 L557.60,382.86 L558.08,382.81 L558.56,382.66 L559.03,382.55 L559.51,382.55 L559.99,382.46 L560.47,382.36 L560.94,382.42 L561.42,382.20 L561.90,382.28 L562.40,382.32 L562.90,382.49 L563.40,382.76 L563.90,382.91 L564.40,383.02 L564.90,383.52 L565.40,383.79 L565.90,384.16 L566.40,384.56 L566.90,384.79 L567.40,385.29 L567.88,385.48 L568.37,385.82 L568.85,386.24 L569.34,386.48 L569.82,386.95 L570.31,387.56 L570.79,387.70 L571.28,388.17 L571.76,388.67 L572.25,388.95 L572.73,389.34 L573.22,389.72 L573.70,390.00 L574.18,390.14 L574.67,390.36 L575.15,390.50 L575.63,390.95 L576.12,390.99 L576.60,391.30 L577.08,391.41 L577.57,391.80 L578.05,391.91 L578.53,392.00 L579.02,392.33 L579.50,392.36 L579.98,392.62 L580.47,392.77 L580.95,393.08 L581.43,393.20 L581.92,393.25 L582.40,393.45 L582.89,393.65 L583.37,393.92 L583.86,393.94 L584.35,394.21 L584.83,394.16 L585.32,394.33 L585.81,394.68 L586.30,394.70 L586.78,394.75 L587.27,394.94 L587.76,395.14 L588.24,395.18 L588.73,395.40 L589.22,395.72 L589.70,395.57 L590.19,395.78 L590.68,395.89 L591.17,395.96 L591.65,396.31 L592.14,396.22 L592.63,396.30 L593.11,396.48 L593.60,396.47 L594.09,396.69 L594.58,396.70 L595.06,396.89 L595.55,396.88 L596.04,397.20 L596.53,397.18 L597.02,397.32 L597.50,397.29 L597.99,397.32 L598.48,397.47 L598.97,397.64 L599.45,397.58 L599.94,397.72 L600.43,398.03 L600.92,397.92 L601.41,397.97 L601.89,398.24 L602.38,398.16 L602.87,398.32 L603.36,398.38 L603.85,398.44 L604.33,398.38 L604.82,398.64 L605.31,398.59 L605.80,398.82 L606.28,398.91 L606.77,398.79 L607.26,398.99 L607.75,399.06 L608.24,398.88 L608.72,398.96 L609.21,399.18 L609.70,399.21 L610.19,399.05 L610.68,399.09 L611.17,399.32 L611.66,399.12 L612.15,399.19 L612.64,399.22 L613.13,399.28 L613.62,399.37 L614.11,399.31 L614.59,399.36 L615.08,399.63 L615.57,399.51 L616.06,399.54 L616.55,399.52 L617.04,399.76 L617.53,399.67 L618.02,399.66 L618.51,399.59 L619.00,399.79 L619.49,399.70 L619.98,399.90 L620.47,399.69 L620.96,399.84 L621.45,399.92 L621.94,399.90 L622.43,400.02 L622.92,400.05 L623.41,399.98 L623.89,399.80 L624.38,400.07 L624.87,399.96 L625.36,399.93 L625.85,399.92 L626.34,399.84 L626.83,399.90 L627.32,399.91 L627.81,399.92 L628.30,400.09 L628.80,399.89 L629.29,399.92 L629.79,400.01 L630.29,399.87 L630.78,400.05 L631.28,399.80 L631.78,399.92 L632.27,399.81 L632.77,399.76 L633.27,399.92 L633.76,399.86 L634.26,399.82 L634.76,399.75 L635.25,399.74 L635.75,399.63 L636.25,399.58 L636.74,399.70 L637.24,399.73 L637.74,399.58 L638.23,399.63 L638.73,399.61 L639.23,399.56 L639.72,399.49 L640.22,399.57 L640.72,399.49 L641.21,399.51 L641.71,399.60 L642.21,399.54 L642.70,399.59 L643.20,399.58 L643.69,399.53 L644.19,399.41 L644.68,399.61 L645.18,399.51 L645.67,399.60 L646.16,399.39 L646.66,399.56 L647.15,399.55 L647.65,399.63 L648.14,399.60 L648.63,399.63 L649.13,399.56 L649.62,399.68 L650.12,399.62 L650.61,399.46 L651.10,399.71 L651.60,399.51 L652.09,399.50 L652.58,399.54 L653.08,399.69 L653.57,399.64 L654.07,399.63 L654.56,399.55 L655.05,399.64 L655.55,399.74 L656.04,399.70 L656.54,399.65 L657.03,399.75 L657.52,399.61 L658.02,399.56 L658.51,399.76 L659.01,399.57 L659.50,399.56" fill="none" stroke="#55aa55" stroke-width="1.4" stroke-linejoin="round" stroke-linecap="round"/>
<text x="622.0" y="276" font-size="8.3" fill="#4580c2"><tspan>AA</tspan></text>
<text x="604.8" y="326.3" font-size="8.3" fill="#f39040"><tspan>THF Vapor</tspan></text>
<text x="608.5" y="393" font-size="8.4" fill="#55aa55"><tspan>Vacuum</tspan></text>
<text x="480.3" y="239.6" font-size="23.5" text-anchor="start" fill="#000" >f</text>
<path d="M671.2,271.7 L678.2,271.7 L678.2,362 L685.4000000000001,362 L674.7,382.7 L664.0,362 L671.2,362 Z" fill="#a9c0e3"/>
<rect x="250.5" y="10.5" width="197.3" height="178.0" fill="none" stroke="#4d4d4d" stroke-width="1"/>
<line x1="246.5" y1="180.2" x2="250.5" y2="180.2" stroke="#4d4d4d" stroke-width="1"/>
<text x="244.8" y="183.1" font-size="10" text-anchor="end" fill="#000" >0</text>
<line x1="246.5" y1="149.35999999999999" x2="250.5" y2="149.35999999999999" stroke="#4d4d4d" stroke-width="1"/>
<text x="244.8" y="152.26" font-size="10" text-anchor="end" fill="#000" >200</text>
<line x1="246.5" y1="118.51999999999998" x2="250.5" y2="118.51999999999998" stroke="#4d4d4d" stroke-width="1"/>
<text x="244.8" y="121.41999999999999" font-size="10" text-anchor="end" fill="#000" >400</text>
<line x1="246.5" y1="87.67999999999999" x2="250.5" y2="87.67999999999999" stroke="#4d4d4d" stroke-width="1"/>
<text x="244.8" y="90.58" font-size="10" text-anchor="end" fill="#000" >600</text>
<line x1="246.5" y1="56.83999999999999" x2="250.5" y2="56.83999999999999" stroke="#4d4d4d" stroke-width="1"/>
<text x="244.8" y="59.73999999999999" font-size="10" text-anchor="end" fill="#000" >800</text>
<line x1="246.5" y1="25.99999999999997" x2="250.5" y2="25.99999999999997" stroke="#4d4d4d" stroke-width="1"/>
<text x="244.8" y="28.89999999999997" font-size="10" text-anchor="end" fill="#000" >1000</text>
<line x1="248.5" y1="164.78" x2="250.5" y2="164.78" stroke="#4d4d4d" stroke-width="1"/>
<line x1="248.5" y1="133.94" x2="250.5" y2="133.94" stroke="#4d4d4d" stroke-width="1"/>
<line x1="248.5" y1="103.09999999999998" x2="250.5" y2="103.09999999999998" stroke="#4d4d4d" stroke-width="1"/>
<line x1="248.5" y1="72.25999999999999" x2="250.5" y2="72.25999999999999" stroke="#4d4d4d" stroke-width="1"/>
<line x1="248.5" y1="41.41999999999999" x2="250.5" y2="41.41999999999999" stroke="#4d4d4d" stroke-width="1"/>
<line x1="248.5" y1="10.579999999999984" x2="250.5" y2="10.579999999999984" stroke="#4d4d4d" stroke-width="1"/>
<line x1="250.6" y1="188.5" x2="250.6" y2="192.5" stroke="#4d4d4d" stroke-width="1"/>
<text x="250.6" y="201.5" font-size="10" text-anchor="middle" fill="#000" >0.0</text>
<line x1="288.18" y1="188.5" x2="288.18" y2="192.5" stroke="#4d4d4d" stroke-width="1"/>
<text x="288.18" y="201.5" font-size="10" text-anchor="middle" fill="#000" >0.2</text>
<line x1="325.76" y1="188.5" x2="325.76" y2="192.5" stroke="#4d4d4d" stroke-width="1"/>
<text x="325.76" y="201.5" font-size="10" text-anchor="middle" fill="#000" >0.4</text>
<line x1="363.34000000000003" y1="188.5" x2="363.34000000000003" y2="192.5" stroke="#4d4d4d" stroke-width="1"/>
<text x="363.34" y="201.5" font-size="10" text-anchor="middle" fill="#000" >0.6</text>
<line x1="400.92" y1="188.5" x2="400.92" y2="192.5" stroke="#4d4d4d" stroke-width="1"/>
<text x="400.92" y="201.5" font-size="10" text-anchor="middle" fill="#000" >0.8</text>
<line x1="438.5" y1="188.5" x2="438.5" y2="192.5" stroke="#4d4d4d" stroke-width="1"/>
<text x="438.5" y="201.5" font-size="10" text-anchor="middle" fill="#000" >1.0</text>
<line x1="269.39" y1="188.5" x2="269.39" y2="190.5" stroke="#4d4d4d" stroke-width="1"/>
<line x1="306.97" y1="188.5" x2="306.97" y2="190.5" stroke="#4d4d4d" stroke-width="1"/>
<line x1="344.55" y1="188.5" x2="344.55" y2="190.5" stroke="#4d4d4d" stroke-width="1"/>
<line x1="382.13" y1="188.5" x2="382.13" y2="190.5" stroke="#4d4d4d" stroke-width="1"/>
<line x1="419.71000000000004" y1="188.5" x2="419.71000000000004" y2="190.5" stroke="#4d4d4d" stroke-width="1"/>
<text x="216.5" y="99" font-size="13.5" text-anchor="start" fill="#000" ></text>
<text x="0" y="0" font-size="13.5" text-anchor="middle" fill="#000" transform="translate(218.8,99) rotate(-90)">STP(cc/g)</text>
<text x="337.5" y="221.7" font-size="14.5" fill="#000" textLength="18.6" lengthAdjust="spacingAndGlyphs">P/P</text><text x="356.2" y="224.9" font-size="9.8" fill="#000">0</text>
<text x="210.3" y="15.5" font-size="23" text-anchor="start" fill="#000" >b</text>
<g stroke-opacity="0.8">
<polyline points="441.00,114.50 431.10,118.50 417.60,120.20 407.50,121.90 397.40,124.20 387.40,126.50 375.00,129.00 363.10,132.50 360.30,140.40 359.00,147.20 357.60,153.90 352.00,163.00 345.00,170.00 337.40,173.50 312.70,176.20 295.20,176.90" fill="none" stroke="#fcd08a" stroke-width="0.5"/>
<polygon points="441.00,112.13 441.71,113.83 443.54,113.98 442.14,115.17 442.57,116.96 441.00,116.00 439.43,116.96 439.86,115.17 438.46,113.98 440.29,113.83" fill="none" stroke="#fbbd5a" stroke-width="0.48"/>
<polygon points="431.10,116.13 431.81,117.83 433.64,117.98 432.24,119.17 432.67,120.96 431.10,120.00 429.53,120.96 429.96,119.17 428.56,117.98 430.39,117.83" fill="none" stroke="#fbbd5a" stroke-width="0.48"/>
<polygon points="417.60,117.83 418.31,119.53 420.14,119.68 418.74,120.87 419.17,122.66 417.60,121.70 416.03,122.66 416.46,120.87 415.06,119.68 416.89,119.53" fill="none" stroke="#fbbd5a" stroke-width="0.48"/>
<polygon points="407.50,119.53 408.21,121.23 410.04,121.38 408.64,122.57 409.07,124.36 407.50,123.40 405.93,124.36 406.36,122.57 404.96,121.38 406.79,121.23" fill="none" stroke="#fbbd5a" stroke-width="0.48"/>
<polygon points="397.40,121.83 398.11,123.53 399.94,123.68 398.54,124.87 398.97,126.66 397.40,125.70 395.83,126.66 396.26,124.87 394.86,123.68 396.69,123.53" fill="none" stroke="#fbbd5a" stroke-width="0.48"/>
<polygon points="387.40,124.13 388.11,125.83 389.94,125.98 388.54,127.17 388.97,128.96 387.40,128.00 385.83,128.96 386.26,127.17 384.86,125.98 386.69,125.83" fill="none" stroke="#fbbd5a" stroke-width="0.48"/>
<polygon points="375.00,126.63 375.71,128.33 377.54,128.48 376.14,129.67 376.57,131.46 375.00,130.50 373.43,131.46 373.86,129.67 372.46,128.48 374.29,128.33" fill="none" stroke="#fbbd5a" stroke-width="0.48"/>
<polygon points="363.10,130.13 363.81,131.83 365.64,131.98 364.24,133.17 364.67,134.96 363.10,134.00 361.53,134.96 361.96,133.17 360.56,131.98 362.39,131.83" fill="none" stroke="#fbbd5a" stroke-width="0.48"/>
<polygon points="360.30,138.03 361.01,139.73 362.84,139.88 361.44,141.07 361.87,142.86 360.30,141.90 358.73,142.86 359.16,141.07 357.76,139.88 359.59,139.73" fill="none" stroke="#fbbd5a" stroke-width="0.48"/>
<polygon points="359.00,144.83 359.71,146.53 361.54,146.68 360.14,147.87 360.57,149.66 359.00,148.70 357.43,149.66 357.86,147.87 356.46,146.68 358.29,146.53" fill="none" stroke="#fbbd5a" stroke-width="0.48"/>
<polygon points="357.60,151.53 358.31,153.23 360.14,153.38 358.74,154.57 359.17,156.36 357.60,155.40 356.03,156.36 356.46,154.57 355.06,153.38 356.89,153.23" fill="none" stroke="#fbbd5a" stroke-width="0.48"/>
<polygon points="352.00,160.63 352.71,162.33 354.54,162.48 353.14,163.67 353.57,165.46 352.00,164.50 350.43,165.46 350.86,163.67 349.46,162.48 351.29,162.33" fill="none" stroke="#fbbd5a" stroke-width="0.48"/>
<polygon points="345.00,167.63 345.71,169.33 347.54,169.48 346.14,170.67 346.57,172.46 345.00,171.50 343.43,172.46 343.86,170.67 342.46,169.48 344.29,169.33" fill="none" stroke="#fbbd5a" stroke-width="0.48"/>
<polygon points="337.40,171.13 338.11,172.83 339.94,172.98 338.54,174.17 338.97,175.96 337.40,175.00 335.83,175.96 336.26,174.17 334.86,172.98 336.69,172.83" fill="none" stroke="#fbbd5a" stroke-width="0.48"/>
<polygon points="312.70,173.83 313.41,175.53 315.24,175.68 313.84,176.87 314.27,178.66 312.70,177.70 311.13,178.66 311.56,176.87 310.16,175.68 311.99,175.53" fill="none" stroke="#fbbd5a" stroke-width="0.48"/>
<polygon points="295.20,174.53 295.91,176.23 297.74,176.38 296.34,177.57 296.77,179.36 295.20,178.40 293.63,179.36 294.06,177.57 292.66,176.38 294.49,176.23" fill="none" stroke="#fbbd5a" stroke-width="0.48"/>
<polyline points="441.20,106.20 432.80,109.20 423.80,110.90 413.70,112.90 405.60,114.40 397.40,116.60 385.40,119.70 378.00,122.00 371.20,126.20 363.10,133.40 360.50,146.00 356.00,156.70 348.80,171.10 337.10,173.80 316.00,176.00 290.40,176.80" fill="none" stroke="#f28aa5" stroke-width="0.5"/>
<polygon points="441.20,103.66 443.61,107.73 438.79,107.73" fill="none" stroke="#ea4a72" stroke-width="0.6" stroke-linejoin="miter"/>
<polygon points="432.80,106.66 435.21,110.73 430.39,110.73" fill="none" stroke="#ea4a72" stroke-width="0.6" stroke-linejoin="miter"/>
<polygon points="423.80,108.36 426.21,112.43 421.39,112.43" fill="none" stroke="#ea4a72" stroke-width="0.6" stroke-linejoin="miter"/>
<polygon points="413.70,110.36 416.11,114.43 411.29,114.43" fill="none" stroke="#ea4a72" stroke-width="0.6" stroke-linejoin="miter"/>
<polygon points="405.60,111.86 408.01,115.93 403.19,115.93" fill="none" stroke="#ea4a72" stroke-width="0.6" stroke-linejoin="miter"/>
<polygon points="397.40,114.06 399.81,118.13 394.99,118.13" fill="none" stroke="#ea4a72" stroke-width="0.6" stroke-linejoin="miter"/>
<polygon points="385.40,117.16 387.81,121.23 382.99,121.23" fill="none" stroke="#ea4a72" stroke-width="0.6" stroke-linejoin="miter"/>
<polygon points="378.00,119.46 380.41,123.53 375.59,123.53" fill="none" stroke="#ea4a72" stroke-width="0.6" stroke-linejoin="miter"/>
<polygon points="371.20,123.66 373.61,127.73 368.79,127.73" fill="none" stroke="#ea4a72" stroke-width="0.6" stroke-linejoin="miter"/>
<polygon points="363.10,130.86 365.51,134.93 360.69,134.93" fill="none" stroke="#ea4a72" stroke-width="0.6" stroke-linejoin="miter"/>
<polygon points="360.50,143.46 362.91,147.53 358.09,147.53" fill="none" stroke="#ea4a72" stroke-width="0.6" stroke-linejoin="miter"/>
<polygon points="356.00,154.16 358.41,158.23 353.59,158.23" fill="none" stroke="#ea4a72" stroke-width="0.6" stroke-linejoin="miter"/>
<polygon points="348.80,168.56 351.21,172.63 346.39,172.63" fill="none" stroke="#ea4a72" stroke-width="0.6" stroke-linejoin="miter"/>
<polygon points="337.10,171.26 339.51,175.33 334.69,175.33" fill="none" stroke="#ea4a72" stroke-width="0.6" stroke-linejoin="miter"/>
<polygon points="316.00,173.46 318.41,177.53 313.59,177.53" fill="none" stroke="#ea4a72" stroke-width="0.6" stroke-linejoin="miter"/>
<polygon points="290.40,174.26 292.81,178.33 287.99,178.33" fill="none" stroke="#ea4a72" stroke-width="0.6" stroke-linejoin="miter"/>
<polyline points="440.50,29.00 435.00,32.60 426.00,37.90 408.80,42.80 387.50,48.00 372.40,60.60 370.00,74.50 369.80,87.50 369.50,110.30 359.60,126.20 357.00,138.40 353.60,151.20 345.00,170.00 334.10,175.00 316.00,175.00 286.60,175.90" fill="none" stroke="#86d0bc" stroke-width="0.5"/>
<circle cx="440.50" cy="29.00" r="1.90" fill="none" stroke="#3db89a" stroke-width="0.6"/>
<circle cx="435.00" cy="32.60" r="1.90" fill="none" stroke="#3db89a" stroke-width="0.6"/>
<circle cx="426.00" cy="37.90" r="1.90" fill="none" stroke="#3db89a" stroke-width="0.6"/>
<circle cx="408.80" cy="42.80" r="1.90" fill="none" stroke="#3db89a" stroke-width="0.6"/>
<circle cx="387.50" cy="48.00" r="1.90" fill="none" stroke="#3db89a" stroke-width="0.6"/>
<circle cx="372.40" cy="60.60" r="1.90" fill="none" stroke="#3db89a" stroke-width="0.6"/>
<circle cx="370.00" cy="74.50" r="1.90" fill="none" stroke="#3db89a" stroke-width="0.6"/>
<circle cx="369.80" cy="87.50" r="1.90" fill="none" stroke="#3db89a" stroke-width="0.6"/>
<circle cx="369.50" cy="110.30" r="1.90" fill="none" stroke="#3db89a" stroke-width="0.6"/>
<circle cx="359.60" cy="126.20" r="1.90" fill="none" stroke="#3db89a" stroke-width="0.6"/>
<circle cx="357.00" cy="138.40" r="1.90" fill="none" stroke="#3db89a" stroke-width="0.6"/>
<circle cx="353.60" cy="151.20" r="1.90" fill="none" stroke="#3db89a" stroke-width="0.6"/>
<circle cx="345.00" cy="170.00" r="1.90" fill="none" stroke="#3db89a" stroke-width="0.6"/>
<circle cx="334.10" cy="175.00" r="1.90" fill="none" stroke="#3db89a" stroke-width="0.6"/>
<circle cx="316.00" cy="175.00" r="1.90" fill="none" stroke="#3db89a" stroke-width="0.6"/>
<circle cx="286.60" cy="175.90" r="1.90" fill="none" stroke="#3db89a" stroke-width="0.6"/>
<polyline points="441.00,29.50 434.60,33.30 419.90,40.70 404.70,44.80 382.90,49.80 372.40,59.50 371.00,70.20 370.10,80.10 370.00,89.10 369.80,100.10 369.50,110.00 367.60,119.00 360.50,132.50 354.20,144.20 351.50,158.20 347.00,171.10 334.40,175.60" fill="none" stroke="#7b96b8" stroke-width="0.5"/>
<rect x="439.30" y="27.80" width="3.40" height="3.40" fill="#fff" fill-opacity="0" stroke="#1f4977" stroke-width="0.55"/>
<rect x="432.90" y="31.60" width="3.40" height="3.40" fill="#fff" fill-opacity="0" stroke="#1f4977" stroke-width="0.55"/>
<rect x="418.20" y="39.00" width="3.40" height="3.40" fill="#fff" fill-opacity="0" stroke="#1f4977" stroke-width="0.55"/>
<rect x="403.00" y="43.10" width="3.40" height="3.40" fill="#fff" fill-opacity="0" stroke="#1f4977" stroke-width="0.55"/>
<rect x="381.20" y="48.10" width="3.40" height="3.40" fill="#fff" fill-opacity="0" stroke="#1f4977" stroke-width="0.55"/>
<rect x="370.70" y="57.80" width="3.40" height="3.40" fill="#fff" fill-opacity="0" stroke="#1f4977" stroke-width="0.55"/>
<rect x="369.30" y="68.50" width="3.40" height="3.40" fill="#fff" fill-opacity="0" stroke="#1f4977" stroke-width="0.55"/>
<rect x="368.40" y="78.40" width="3.40" height="3.40" fill="#fff" fill-opacity="0" stroke="#1f4977" stroke-width="0.55"/>
<rect x="368.30" y="87.40" width="3.40" height="3.40" fill="#fff" fill-opacity="0" stroke="#1f4977" stroke-width="0.55"/>
<rect x="368.10" y="98.40" width="3.40" height="3.40" fill="#fff" fill-opacity="0" stroke="#1f4977" stroke-width="0.55"/>
<rect x="367.80" y="108.30" width="3.40" height="3.40" fill="#fff" fill-opacity="0" stroke="#1f4977" stroke-width="0.55"/>
<rect x="365.90" y="117.30" width="3.40" height="3.40" fill="#fff" fill-opacity="0" stroke="#1f4977" stroke-width="0.55"/>
<rect x="358.80" y="130.80" width="3.40" height="3.40" fill="#fff" fill-opacity="0" stroke="#1f4977" stroke-width="0.55"/>
<rect x="352.50" y="142.50" width="3.40" height="3.40" fill="#fff" fill-opacity="0" stroke="#1f4977" stroke-width="0.55"/>
<rect x="349.80" y="156.50" width="3.40" height="3.40" fill="#fff" fill-opacity="0" stroke="#1f4977" stroke-width="0.55"/>
<rect x="345.30" y="169.40" width="3.40" height="3.40" fill="#fff" fill-opacity="0" stroke="#1f4977" stroke-width="0.55"/>
<rect x="332.70" y="173.90" width="3.40" height="3.40" fill="#fff" fill-opacity="0" stroke="#1f4977" stroke-width="0.55"/>
<polyline points="334.4,175.6 316,176.4 296,177.2" fill="none" stroke="#7b96b8" stroke-width="0.5"/>
</g>
<polyline points="277.20,179.60 302.20,179.60 323.60,178.40 352.40,174.70 358.70,168.40 362.20,161.20 366.70,147.80 372.10,141.50 374.80,135.20 385.40,131.50 395.20,130.10 401.30,128.70 414.60,126.10 419.10,124.20 425.50,122.50 431.10,120.40 436.70,118.00 441.20,116.60" fill="none" stroke="#fcd08a" stroke-width="0.5"/>
<polygon points="277.20,177.23 277.91,178.93 279.74,179.08 278.34,180.27 278.77,182.06 277.20,181.10 275.63,182.06 276.06,180.27 274.66,179.08 276.49,178.93" fill="#fbbd5a" stroke="#fbbd5a" stroke-width="0.5599999999999999"/>
<polygon points="302.20,177.23 302.91,178.93 304.74,179.08 303.34,180.27 303.77,182.06 302.20,181.10 300.63,182.06 301.06,180.27 299.66,179.08 301.49,178.93" fill="#fbbd5a" stroke="#fbbd5a" stroke-width="0.5599999999999999"/>
<polygon points="323.60,176.03 324.31,177.73 326.14,177.88 324.74,179.07 325.17,180.86 323.60,179.90 322.03,180.86 322.46,179.07 321.06,177.88 322.89,177.73" fill="#fbbd5a" stroke="#fbbd5a" stroke-width="0.5599999999999999"/>
<polygon points="352.40,172.33 353.11,174.03 354.94,174.18 353.54,175.37 353.97,177.16 352.40,176.20 350.83,177.16 351.26,175.37 349.86,174.18 351.69,174.03" fill="#fbbd5a" stroke="#fbbd5a" stroke-width="0.5599999999999999"/>
<polygon points="358.70,166.03 359.41,167.73 361.24,167.88 359.84,169.07 360.27,170.86 358.70,169.90 357.13,170.86 357.56,169.07 356.16,167.88 357.99,167.73" fill="#fbbd5a" stroke="#fbbd5a" stroke-width="0.5599999999999999"/>
<polygon points="362.20,158.83 362.91,160.53 364.74,160.68 363.34,161.87 363.77,163.66 362.20,162.70 360.63,163.66 361.06,161.87 359.66,160.68 361.49,160.53" fill="#fbbd5a" stroke="#fbbd5a" stroke-width="0.5599999999999999"/>
<polygon points="366.70,145.43 367.41,147.13 369.24,147.28 367.84,148.47 368.27,150.26 366.70,149.30 365.13,150.26 365.56,148.47 364.16,147.28 365.99,147.13" fill="#fbbd5a" stroke="#fbbd5a" stroke-width="0.5599999999999999"/>
<polygon points="372.10,139.13 372.81,140.83 374.64,140.98 373.24,142.17 373.67,143.96 372.10,143.00 370.53,143.96 370.96,142.17 369.56,140.98 371.39,140.83" fill="#fbbd5a" stroke="#fbbd5a" stroke-width="0.5599999999999999"/>
<polygon points="374.80,132.83 375.51,134.53 377.34,134.68 375.94,135.87 376.37,137.66 374.80,136.70 373.23,137.66 373.66,135.87 372.26,134.68 374.09,134.53" fill="#fbbd5a" stroke="#fbbd5a" stroke-width="0.5599999999999999"/>
<polygon points="385.40,129.13 386.11,130.83 387.94,130.98 386.54,132.17 386.97,133.96 385.40,133.00 383.83,133.96 384.26,132.17 382.86,130.98 384.69,130.83" fill="#fbbd5a" stroke="#fbbd5a" stroke-width="0.5599999999999999"/>
<polygon points="395.20,127.73 395.91,129.43 397.74,129.58 396.34,130.77 396.77,132.56 395.20,131.60 393.63,132.56 394.06,130.77 392.66,129.58 394.49,129.43" fill="#fbbd5a" stroke="#fbbd5a" stroke-width="0.5599999999999999"/>
<polygon points="401.30,126.33 402.01,128.03 403.84,128.18 402.44,129.37 402.87,131.16 401.30,130.20 399.73,131.16 400.16,129.37 398.76,128.18 400.59,128.03" fill="#fbbd5a" stroke="#fbbd5a" stroke-width="0.5599999999999999"/>
<polygon points="414.60,123.73 415.31,125.43 417.14,125.58 415.74,126.77 416.17,128.56 414.60,127.60 413.03,128.56 413.46,126.77 412.06,125.58 413.89,125.43" fill="#fbbd5a" stroke="#fbbd5a" stroke-width="0.5599999999999999"/>
<polygon points="419.10,121.83 419.81,123.53 421.64,123.68 420.24,124.87 420.67,126.66 419.10,125.70 417.53,126.66 417.96,124.87 416.56,123.68 418.39,123.53" fill="#fbbd5a" stroke="#fbbd5a" stroke-width="0.5599999999999999"/>
<polygon points="425.50,120.13 426.21,121.83 428.04,121.98 426.64,123.17 427.07,124.96 425.50,124.00 423.93,124.96 424.36,123.17 422.96,121.98 424.79,121.83" fill="#fbbd5a" stroke="#fbbd5a" stroke-width="0.5599999999999999"/>
<polygon points="431.10,118.03 431.81,119.73 433.64,119.88 432.24,121.07 432.67,122.86 431.10,121.90 429.53,122.86 429.96,121.07 428.56,119.88 430.39,119.73" fill="#fbbd5a" stroke="#fbbd5a" stroke-width="0.5599999999999999"/>
<polygon points="436.70,115.63 437.41,117.33 439.24,117.48 437.84,118.67 438.27,120.46 436.70,119.50 435.13,120.46 435.56,118.67 434.16,117.48 435.99,117.33" fill="#fbbd5a" stroke="#fbbd5a" stroke-width="0.5599999999999999"/>
<polygon points="441.20,114.23 441.91,115.93 443.74,116.08 442.34,117.27 442.77,119.06 441.20,118.10 439.63,119.06 440.06,117.27 438.66,116.08 440.49,115.93" fill="#fbbd5a" stroke="#fbbd5a" stroke-width="0.5599999999999999"/>
<polyline points="282.30,179.10 308.30,178.60 329.20,178.10 345.20,177.40 358.70,172.00 364.00,164.80 365.50,155.60 367.60,143.30 372.10,136.10 375.70,130.70 385.60,127.00 395.70,125.60 402.50,123.80 412.40,121.90 423.80,118.50 429.40,116.90 432.00,115.00 435.00,113.00 437.50,111.00 440.00,109.00 441.50,107.00" fill="none" stroke="#f28aa5" stroke-width="0.5"/>
<polygon points="282.30,176.62 284.66,180.59 279.94,180.59" fill="#ea4a72" stroke="#ea4a72" stroke-width="0.7" stroke-linejoin="miter"/>
<polygon points="308.30,176.12 310.66,180.09 305.94,180.09" fill="#ea4a72" stroke="#ea4a72" stroke-width="0.7" stroke-linejoin="miter"/>
<polygon points="329.20,175.62 331.56,179.59 326.84,179.59" fill="#ea4a72" stroke="#ea4a72" stroke-width="0.7" stroke-linejoin="miter"/>
<polygon points="345.20,174.92 347.56,178.89 342.84,178.89" fill="#ea4a72" stroke="#ea4a72" stroke-width="0.7" stroke-linejoin="miter"/>
<polygon points="358.70,169.52 361.06,173.49 356.34,173.49" fill="#ea4a72" stroke="#ea4a72" stroke-width="0.7" stroke-linejoin="miter"/>
<polygon points="364.00,162.32 366.36,166.29 361.64,166.29" fill="#ea4a72" stroke="#ea4a72" stroke-width="0.7" stroke-linejoin="miter"/>
<polygon points="365.50,153.12 367.86,157.09 363.14,157.09" fill="#ea4a72" stroke="#ea4a72" stroke-width="0.7" stroke-linejoin="miter"/>
<polygon points="367.60,140.82 369.96,144.79 365.24,144.79" fill="#ea4a72" stroke="#ea4a72" stroke-width="0.7" stroke-linejoin="miter"/>
<polygon points="372.10,133.62 374.46,137.59 369.74,137.59" fill="#ea4a72" stroke="#ea4a72" stroke-width="0.7" stroke-linejoin="miter"/>
<polygon points="375.70,128.22 378.06,132.19 373.34,132.19" fill="#ea4a72" stroke="#ea4a72" stroke-width="0.7" stroke-linejoin="miter"/>
<polygon points="385.60,124.52 387.96,128.49 383.24,128.49" fill="#ea4a72" stroke="#ea4a72" stroke-width="0.7" stroke-linejoin="miter"/>
<polygon points="395.70,123.12 398.06,127.09 393.34,127.09" fill="#ea4a72" stroke="#ea4a72" stroke-width="0.7" stroke-linejoin="miter"/>
<polygon points="402.50,121.32 404.86,125.29 400.14,125.29" fill="#ea4a72" stroke="#ea4a72" stroke-width="0.7" stroke-linejoin="miter"/>
<polygon points="412.40,119.42 414.76,123.39 410.04,123.39" fill="#ea4a72" stroke="#ea4a72" stroke-width="0.7" stroke-linejoin="miter"/>
<polygon points="423.80,116.02 426.16,119.99 421.44,119.99" fill="#ea4a72" stroke="#ea4a72" stroke-width="0.7" stroke-linejoin="miter"/>
<polygon points="429.40,114.42 431.76,118.39 427.04,118.39" fill="#ea4a72" stroke="#ea4a72" stroke-width="0.7" stroke-linejoin="miter"/>
<polygon points="432.00,112.52 434.36,116.49 429.64,116.49" fill="#ea4a72" stroke="#ea4a72" stroke-width="0.7" stroke-linejoin="miter"/>
<polygon points="435.00,110.52 437.36,114.49 432.64,114.49" fill="#ea4a72" stroke="#ea4a72" stroke-width="0.7" stroke-linejoin="miter"/>
<polygon points="437.50,108.52 439.86,112.49 435.14,112.49" fill="#ea4a72" stroke="#ea4a72" stroke-width="0.7" stroke-linejoin="miter"/>
<polygon points="440.00,106.52 442.36,110.49 437.64,110.49" fill="#ea4a72" stroke="#ea4a72" stroke-width="0.7" stroke-linejoin="miter"/>
<polygon points="441.50,104.52 443.86,108.49 439.14,108.49" fill="#ea4a72" stroke="#ea4a72" stroke-width="0.7" stroke-linejoin="miter"/>
<polyline points="295.00,180.40 330.30,179.60 360.50,178.70 374.00,176.50 374.20,169.30 374.60,158.50 375.30,138.80 375.90,119.50 376.30,109.10 376.60,99.30 377.00,89.10 377.30,79.70 377.60,70.20 381.50,60.20 417.90,45.40 422.90,43.40 430.00,40.30 435.00,37.70 439.10,34.30 441.10,31.20" fill="none" stroke="#7b96b8" stroke-width="0.5"/>
<rect x="293.25" y="178.65" width="3.50" height="3.50" fill="#1f4977" fill-opacity="1" stroke="#1f4977" stroke-width="0.7"/>
<rect x="328.55" y="177.85" width="3.50" height="3.50" fill="#1f4977" fill-opacity="1" stroke="#1f4977" stroke-width="0.7"/>
<rect x="358.75" y="176.95" width="3.50" height="3.50" fill="#1f4977" fill-opacity="1" stroke="#1f4977" stroke-width="0.7"/>
<rect x="372.25" y="174.75" width="3.50" height="3.50" fill="#1f4977" fill-opacity="1" stroke="#1f4977" stroke-width="0.7"/>
<rect x="372.45" y="167.55" width="3.50" height="3.50" fill="#1f4977" fill-opacity="1" stroke="#1f4977" stroke-width="0.7"/>
<rect x="372.85" y="156.75" width="3.50" height="3.50" fill="#1f4977" fill-opacity="1" stroke="#1f4977" stroke-width="0.7"/>
<rect x="373.55" y="137.05" width="3.50" height="3.50" fill="#1f4977" fill-opacity="1" stroke="#1f4977" stroke-width="0.7"/>
<rect x="374.15" y="117.75" width="3.50" height="3.50" fill="#1f4977" fill-opacity="1" stroke="#1f4977" stroke-width="0.7"/>
<rect x="374.55" y="107.35" width="3.50" height="3.50" fill="#1f4977" fill-opacity="1" stroke="#1f4977" stroke-width="0.7"/>
<rect x="374.85" y="97.55" width="3.50" height="3.50" fill="#1f4977" fill-opacity="1" stroke="#1f4977" stroke-width="0.7"/>
<rect x="375.25" y="87.35" width="3.50" height="3.50" fill="#1f4977" fill-opacity="1" stroke="#1f4977" stroke-width="0.7"/>
<rect x="375.55" y="77.95" width="3.50" height="3.50" fill="#1f4977" fill-opacity="1" stroke="#1f4977" stroke-width="0.7"/>
<rect x="375.85" y="68.45" width="3.50" height="3.50" fill="#1f4977" fill-opacity="1" stroke="#1f4977" stroke-width="0.7"/>
<rect x="379.75" y="58.45" width="3.50" height="3.50" fill="#1f4977" fill-opacity="1" stroke="#1f4977" stroke-width="0.7"/>
<rect x="416.15" y="43.65" width="3.50" height="3.50" fill="#1f4977" fill-opacity="1" stroke="#1f4977" stroke-width="0.7"/>
<rect x="421.15" y="41.65" width="3.50" height="3.50" fill="#1f4977" fill-opacity="1" stroke="#1f4977" stroke-width="0.7"/>
<rect x="428.25" y="38.55" width="3.50" height="3.50" fill="#1f4977" fill-opacity="1" stroke="#1f4977" stroke-width="0.7"/>
<rect x="433.25" y="35.95" width="3.50" height="3.50" fill="#1f4977" fill-opacity="1" stroke="#1f4977" stroke-width="0.7"/>
<rect x="437.35" y="32.55" width="3.50" height="3.50" fill="#1f4977" fill-opacity="1" stroke="#1f4977" stroke-width="0.7"/>
<rect x="439.35" y="29.45" width="3.50" height="3.50" fill="#1f4977" fill-opacity="1" stroke="#1f4977" stroke-width="0.7"/>
<polyline points="292.00,180.10 326.20,179.60 356.90,178.70 369.40,178.00 374.10,172.90 374.50,160.30 375.00,147.40 375.70,127.00 375.80,122.10 376.30,109.10 376.70,97.00 377.10,83.90 377.60,69.80 383.10,57.90 387.50,56.90 393.00,54.90 402.30,51.50 413.80,46.40 426.00,41.30 434.00,36.30 438.70,32.60 440.70,27.20" fill="none" stroke="#7fcab5" stroke-width="0.6"/>
<circle cx="292.00" cy="180.10" r="2.15" fill="#3db89a" stroke="#3db89a" stroke-width="0.7"/>
<circle cx="326.20" cy="179.60" r="2.15" fill="#3db89a" stroke="#3db89a" stroke-width="0.7"/>
<circle cx="356.90" cy="178.70" r="2.15" fill="#3db89a" stroke="#3db89a" stroke-width="0.7"/>
<circle cx="369.40" cy="178.00" r="2.15" fill="#3db89a" stroke="#3db89a" stroke-width="0.7"/>
<circle cx="374.10" cy="172.90" r="2.15" fill="#3db89a" stroke="#3db89a" stroke-width="0.7"/>
<circle cx="374.50" cy="160.30" r="2.15" fill="#3db89a" stroke="#3db89a" stroke-width="0.7"/>
<circle cx="375.00" cy="147.40" r="2.15" fill="#3db89a" stroke="#3db89a" stroke-width="0.7"/>
<circle cx="375.70" cy="127.00" r="2.15" fill="#3db89a" stroke="#3db89a" stroke-width="0.7"/>
<circle cx="375.80" cy="122.10" r="2.15" fill="#3db89a" stroke="#3db89a" stroke-width="0.7"/>
<circle cx="376.30" cy="109.10" r="2.15" fill="#3db89a" stroke="#3db89a" stroke-width="0.7"/>
<circle cx="376.70" cy="97.00" r="2.15" fill="#3db89a" stroke="#3db89a" stroke-width="0.7"/>
<circle cx="377.10" cy="83.90" r="2.15" fill="#3db89a" stroke="#3db89a" stroke-width="0.7"/>
<circle cx="377.60" cy="69.80" r="2.15" fill="#3db89a" stroke="#3db89a" stroke-width="0.7"/>
<circle cx="383.10" cy="57.90" r="2.15" fill="#3db89a" stroke="#3db89a" stroke-width="0.7"/>
<circle cx="387.50" cy="56.90" r="2.15" fill="#3db89a" stroke="#3db89a" stroke-width="0.7"/>
<circle cx="393.00" cy="54.90" r="2.15" fill="#3db89a" stroke="#3db89a" stroke-width="0.7"/>
<circle cx="402.30" cy="51.50" r="2.15" fill="#3db89a" stroke="#3db89a" stroke-width="0.7"/>
<circle cx="413.80" cy="46.40" r="2.15" fill="#3db89a" stroke="#3db89a" stroke-width="0.7"/>
<circle cx="426.00" cy="41.30" r="2.15" fill="#3db89a" stroke="#3db89a" stroke-width="0.7"/>
<circle cx="434.00" cy="36.30" r="2.15" fill="#3db89a" stroke="#3db89a" stroke-width="0.7"/>
<circle cx="438.70" cy="32.60" r="2.15" fill="#3db89a" stroke="#3db89a" stroke-width="0.7"/>
<circle cx="440.70" cy="27.20" r="2.15" fill="#3db89a" stroke="#3db89a" stroke-width="0.7"/>
<line x1="253" y1="16.7" x2="271" y2="16.7" stroke="#8aa3c0" stroke-width="0.9"/>
<rect x="260.20" y="14.90" width="3.60" height="3.60" fill="#1f4977" fill-opacity="1" stroke="#1f4977" stroke-width="0.8"/>
<text x="273.8" y="19.5" font-size="8.1" text-anchor="start" fill="#000" >First cycle AA</text>
<line x1="253" y1="26.9" x2="271" y2="26.9" stroke="#a6e0d0" stroke-width="0.9"/>
<circle cx="262.00" cy="26.90" r="1.80" fill="#3db89a" stroke="#3db89a" stroke-width="0.8"/>
<text x="273.8" y="29.7" font-size="8.1" text-anchor="start" fill="#000" >Second cycle AA</text>
<line x1="253" y1="37" x2="271" y2="37" stroke="#f2a0b5" stroke-width="0.9"/>
<polygon points="262.00,34.77 264.12,38.34 259.88,38.34" fill="#ea4a72" stroke="#ea4a72" stroke-width="0.8" stroke-linejoin="miter"/>
<text x="273.8" y="39.8" font-size="8.1" text-anchor="start" fill="#000" >First cycle Inclined</text>
<line x1="253" y1="47.2" x2="271" y2="47.2" stroke="#fcd9a0" stroke-width="0.9"/>
<polygon points="262.00,44.77 262.72,46.51 264.59,46.66 263.17,47.88 263.60,49.71 262.00,48.73 260.40,49.71 260.83,47.88 259.41,46.66 261.28,46.51" fill="#fbbd5a" stroke="#fbbd5a" stroke-width="0.6400000000000001"/>
<text x="273.8" y="50.0" font-size="8.1" text-anchor="start" fill="#000" >Second cycle Inclined</text>
<rect x="250.5" y="233.5" width="198.0" height="177.7" fill="none" stroke="#4d4d4d" stroke-width="1"/>
<line x1="246.5" y1="406.4" x2="250.5" y2="406.4" stroke="#4d4d4d" stroke-width="1"/>
<text x="244.8" y="409.29999999999995" font-size="10" text-anchor="end" fill="#000" >0</text>
<line x1="246.5" y1="377.59999999999997" x2="250.5" y2="377.59999999999997" stroke="#4d4d4d" stroke-width="1"/>
<text x="244.8" y="380.49999999999994" font-size="10" text-anchor="end" fill="#000" >200</text>
<line x1="246.5" y1="348.79999999999995" x2="250.5" y2="348.79999999999995" stroke="#4d4d4d" stroke-width="1"/>
<text x="244.8" y="351.69999999999993" font-size="10" text-anchor="end" fill="#000" >400</text>
<line x1="246.5" y1="320.0" x2="250.5" y2="320.0" stroke="#4d4d4d" stroke-width="1"/>
<text x="244.8" y="322.9" font-size="10" text-anchor="end" fill="#000" >600</text>
<line x1="246.5" y1="291.2" x2="250.5" y2="291.2" stroke="#4d4d4d" stroke-width="1"/>
<text x="244.8" y="294.09999999999997" font-size="10" text-anchor="end" fill="#000" >800</text>
<line x1="246.5" y1="262.4" x2="250.5" y2="262.4" stroke="#4d4d4d" stroke-width="1"/>
<text x="244.8" y="265.29999999999995" font-size="10" text-anchor="end" fill="#000" >1000</text>
<line x1="246.5" y1="233.6" x2="250.5" y2="233.6" stroke="#4d4d4d" stroke-width="1"/>
<text x="244.8" y="236.5" font-size="10" text-anchor="end" fill="#000" >1200</text>
<line x1="248.5" y1="392.0" x2="250.5" y2="392.0" stroke="#4d4d4d" stroke-width="1"/>
<line x1="248.5" y1="363.2" x2="250.5" y2="363.2" stroke="#4d4d4d" stroke-width="1"/>
<line x1="248.5" y1="334.4" x2="250.5" y2="334.4" stroke="#4d4d4d" stroke-width="1"/>
<line x1="248.5" y1="305.59999999999997" x2="250.5" y2="305.59999999999997" stroke="#4d4d4d" stroke-width="1"/>
<line x1="248.5" y1="276.79999999999995" x2="250.5" y2="276.79999999999995" stroke="#4d4d4d" stroke-width="1"/>
<line x1="248.5" y1="248.0" x2="250.5" y2="248.0" stroke="#4d4d4d" stroke-width="1"/>
<line x1="259.6" y1="411.2" x2="259.6" y2="415.2" stroke="#4d4d4d" stroke-width="1"/>
<text x="259.6" y="425" font-size="10" text-anchor="middle" fill="#000" >0.0</text>
<line x1="293.90000000000003" y1="411.2" x2="293.90000000000003" y2="415.2" stroke="#4d4d4d" stroke-width="1"/>
<text x="293.9" y="425" font-size="10" text-anchor="middle" fill="#000" >0.2</text>
<line x1="328.20000000000005" y1="411.2" x2="328.20000000000005" y2="415.2" stroke="#4d4d4d" stroke-width="1"/>
<text x="328.2" y="425" font-size="10" text-anchor="middle" fill="#000" >0.4</text>
<line x1="362.50000000000006" y1="411.2" x2="362.50000000000006" y2="415.2" stroke="#4d4d4d" stroke-width="1"/>
<text x="362.5" y="425" font-size="10" text-anchor="middle" fill="#000" >0.6</text>
<line x1="396.80000000000007" y1="411.2" x2="396.80000000000007" y2="415.2" stroke="#4d4d4d" stroke-width="1"/>
<text x="396.8" y="425" font-size="10" text-anchor="middle" fill="#000" >0.8</text>
<line x1="431.1" y1="411.2" x2="431.1" y2="415.2" stroke="#4d4d4d" stroke-width="1"/>
<text x="431.1" y="425" font-size="10" text-anchor="middle" fill="#000" >1.0</text>
<line x1="276.75" y1="411.2" x2="276.75" y2="413.2" stroke="#4d4d4d" stroke-width="1"/>
<line x1="311.05" y1="411.2" x2="311.05" y2="413.2" stroke="#4d4d4d" stroke-width="1"/>
<line x1="345.35" y1="411.2" x2="345.35" y2="413.2" stroke="#4d4d4d" stroke-width="1"/>
<line x1="379.65000000000003" y1="411.2" x2="379.65000000000003" y2="413.2" stroke="#4d4d4d" stroke-width="1"/>
<line x1="413.95000000000005" y1="411.2" x2="413.95000000000005" y2="413.2" stroke="#4d4d4d" stroke-width="1"/>
<line x1="448.25" y1="411.2" x2="448.25" y2="413.2" stroke="#4d4d4d" stroke-width="1"/>
<text x="0" y="0" font-size="13.5" text-anchor="middle" fill="#000" transform="translate(219.3,322) rotate(-90)">STP(cc/g)</text>
<text x="338.2" y="440.9" font-size="14.5" fill="#000" textLength="18.8" lengthAdjust="spacingAndGlyphs">P/P</text><text x="357.2" y="444.6" font-size="9.8" fill="#000">0</text>
<text x="209.4" y="240.1" font-size="23" text-anchor="start" fill="#000" >e</text>
<g stroke-opacity="0.75">
<polyline points="262.00,398.00 265.10,387.60 269.60,383.60 273.60,381.40 278.10,378.00 282.00,375.70 287.60,374.10 307.90,371.20 327.00,369.40 361.20,366.60 397.10,363.60 406.70,362.40 417.70,359.60 423.00,356.60 426.00,353.70 427.20,350.50 428.90,347.40" fill="none" stroke="#3e7fc4" stroke-width="0.5"/>
<rect x="260.10" y="396.10" width="3.80" height="3.80" fill="#fff" fill-opacity="0" stroke="#3e7fc4" stroke-width="0.55"/>
<rect x="263.20" y="385.70" width="3.80" height="3.80" fill="#fff" fill-opacity="0" stroke="#3e7fc4" stroke-width="0.55"/>
<rect x="267.70" y="381.70" width="3.80" height="3.80" fill="#fff" fill-opacity="0" stroke="#3e7fc4" stroke-width="0.55"/>
<rect x="271.70" y="379.50" width="3.80" height="3.80" fill="#fff" fill-opacity="0" stroke="#3e7fc4" stroke-width="0.55"/>
<rect x="276.20" y="376.10" width="3.80" height="3.80" fill="#fff" fill-opacity="0" stroke="#3e7fc4" stroke-width="0.55"/>
<rect x="280.10" y="373.80" width="3.80" height="3.80" fill="#fff" fill-opacity="0" stroke="#3e7fc4" stroke-width="0.55"/>
<rect x="285.70" y="372.20" width="3.80" height="3.80" fill="#fff" fill-opacity="0" stroke="#3e7fc4" stroke-width="0.55"/>
<rect x="306.00" y="369.30" width="3.80" height="3.80" fill="#fff" fill-opacity="0" stroke="#3e7fc4" stroke-width="0.55"/>
<rect x="325.10" y="367.50" width="3.80" height="3.80" fill="#fff" fill-opacity="0" stroke="#3e7fc4" stroke-width="0.55"/>
<rect x="359.30" y="364.70" width="3.80" height="3.80" fill="#fff" fill-opacity="0" stroke="#3e7fc4" stroke-width="0.55"/>
<rect x="395.20" y="361.70" width="3.80" height="3.80" fill="#fff" fill-opacity="0" stroke="#3e7fc4" stroke-width="0.55"/>
<rect x="404.80" y="360.50" width="3.80" height="3.80" fill="#fff" fill-opacity="0" stroke="#3e7fc4" stroke-width="0.55"/>
<rect x="415.80" y="357.70" width="3.80" height="3.80" fill="#fff" fill-opacity="0" stroke="#3e7fc4" stroke-width="0.55"/>
<rect x="421.10" y="354.70" width="3.80" height="3.80" fill="#fff" fill-opacity="0" stroke="#3e7fc4" stroke-width="0.55"/>
<rect x="424.10" y="351.80" width="3.80" height="3.80" fill="#fff" fill-opacity="0" stroke="#3e7fc4" stroke-width="0.55"/>
<rect x="425.30" y="348.60" width="3.80" height="3.80" fill="#fff" fill-opacity="0" stroke="#3e7fc4" stroke-width="0.55"/>
<rect x="427.00" y="345.50" width="3.80" height="3.80" fill="#fff" fill-opacity="0" stroke="#3e7fc4" stroke-width="0.55"/>
<polyline points="262.00,398.00 265.70,389.20 274.70,384.20 280.30,380.20 284.80,378.00 294.40,376.30 309.00,374.60 327.00,372.90 360.60,370.60 378.70,369.40 397.90,368.00 413.70,366.30 421.60,364.50 426.00,361.00 428.20,357.50 430.00,354.90 431.20,352.30" fill="none" stroke="#f28e3c" stroke-width="0.5"/>
<circle cx="262.00" cy="398.00" r="1.90" fill="none" stroke="#f28e3c" stroke-width="0.55"/>
<circle cx="265.70" cy="389.20" r="1.90" fill="none" stroke="#f28e3c" stroke-width="0.55"/>
<circle cx="274.70" cy="384.20" r="1.90" fill="none" stroke="#f28e3c" stroke-width="0.55"/>
<circle cx="280.30" cy="380.20" r="1.90" fill="none" stroke="#f28e3c" stroke-width="0.55"/>
<circle cx="284.80" cy="378.00" r="1.90" fill="none" stroke="#f28e3c" stroke-width="0.55"/>
<circle cx="294.40" cy="376.30" r="1.90" fill="none" stroke="#f28e3c" stroke-width="0.55"/>
<circle cx="309.00" cy="374.60" r="1.90" fill="none" stroke="#f28e3c" stroke-width="0.55"/>
<circle cx="327.00" cy="372.90" r="1.90" fill="none" stroke="#f28e3c" stroke-width="0.55"/>
<circle cx="360.60" cy="370.60" r="1.90" fill="none" stroke="#f28e3c" stroke-width="0.55"/>
<circle cx="378.70" cy="369.40" r="1.90" fill="none" stroke="#f28e3c" stroke-width="0.55"/>
<circle cx="397.90" cy="368.00" r="1.90" fill="none" stroke="#f28e3c" stroke-width="0.55"/>
<circle cx="413.70" cy="366.30" r="1.90" fill="none" stroke="#f28e3c" stroke-width="0.55"/>
<circle cx="421.60" cy="364.50" r="1.90" fill="none" stroke="#f28e3c" stroke-width="0.55"/>
<circle cx="426.00" cy="361.00" r="1.90" fill="none" stroke="#f28e3c" stroke-width="0.55"/>
<circle cx="428.20" cy="357.50" r="1.90" fill="none" stroke="#f28e3c" stroke-width="0.55"/>
<circle cx="430.00" cy="354.90" r="1.90" fill="none" stroke="#f28e3c" stroke-width="0.55"/>
<circle cx="431.20" cy="352.30" r="1.90" fill="none" stroke="#f28e3c" stroke-width="0.55"/>
<polyline points="262.00,398.00 270.70,387.60 275.20,386.40 281.40,382.00 300.60,375.70 334.90,372.40 355.00,371.50 376.00,370.10 414.60,367.10 425.10,365.40 429.50,361.50 431.50,357.00" fill="none" stroke="#4aa94a" stroke-width="0.5"/>
<polygon points="262.00,395.52 264.36,399.49 259.64,399.49" fill="none" stroke="#4aa94a" stroke-width="0.55" stroke-linejoin="miter"/>
<polygon points="270.70,385.12 273.06,389.09 268.34,389.09" fill="none" stroke="#4aa94a" stroke-width="0.55" stroke-linejoin="miter"/>
<polygon points="275.20,383.92 277.56,387.89 272.84,387.89" fill="none" stroke="#4aa94a" stroke-width="0.55" stroke-linejoin="miter"/>
<polygon points="281.40,379.52 283.76,383.49 279.04,383.49" fill="none" stroke="#4aa94a" stroke-width="0.55" stroke-linejoin="miter"/>
<polygon points="300.60,373.22 302.96,377.19 298.24,377.19" fill="none" stroke="#4aa94a" stroke-width="0.55" stroke-linejoin="miter"/>
<polygon points="334.90,369.92 337.26,373.89 332.54,373.89" fill="none" stroke="#4aa94a" stroke-width="0.55" stroke-linejoin="miter"/>
<polygon points="355.00,369.02 357.36,372.99 352.64,372.99" fill="none" stroke="#4aa94a" stroke-width="0.55" stroke-linejoin="miter"/>
<polygon points="376.00,367.62 378.36,371.59 373.64,371.59" fill="none" stroke="#4aa94a" stroke-width="0.55" stroke-linejoin="miter"/>
<polygon points="414.60,364.62 416.96,368.59 412.24,368.59" fill="none" stroke="#4aa94a" stroke-width="0.55" stroke-linejoin="miter"/>
<polygon points="425.10,362.92 427.46,366.89 422.74,366.89" fill="none" stroke="#4aa94a" stroke-width="0.55" stroke-linejoin="miter"/>
<polygon points="429.50,359.02 431.86,362.99 427.14,362.99" fill="none" stroke="#4aa94a" stroke-width="0.55" stroke-linejoin="miter"/>
<polygon points="431.50,354.52 433.86,358.49 429.14,358.49" fill="none" stroke="#4aa94a" stroke-width="0.55" stroke-linejoin="miter"/>
</g>
<polyline points="260.50,406.50 262.50,406.00 264.50,404.00 266.00,401.00 267.00,397.50 268.00,394.00 269.50,391.00 279.20,387.00 285.40,386.40 293.20,384.20 323.50,378.90 334.00,377.70 372.50,374.70 390.00,373.30 399.70,372.40 411.10,371.20 418.00,369.80 424.00,367.50 428.50,362.00 431.00,356.00" fill="none" stroke="#3e7fc4" stroke-width="0.6"/>
<rect x="258.60" y="404.60" width="3.80" height="3.80" fill="#3e7fc4" fill-opacity="1" stroke="#3e7fc4" stroke-width="0.7"/>
<rect x="260.60" y="404.10" width="3.80" height="3.80" fill="#3e7fc4" fill-opacity="1" stroke="#3e7fc4" stroke-width="0.7"/>
<rect x="262.60" y="402.10" width="3.80" height="3.80" fill="#3e7fc4" fill-opacity="1" stroke="#3e7fc4" stroke-width="0.7"/>
<rect x="264.10" y="399.10" width="3.80" height="3.80" fill="#3e7fc4" fill-opacity="1" stroke="#3e7fc4" stroke-width="0.7"/>
<rect x="265.10" y="395.60" width="3.80" height="3.80" fill="#3e7fc4" fill-opacity="1" stroke="#3e7fc4" stroke-width="0.7"/>
<rect x="266.10" y="392.10" width="3.80" height="3.80" fill="#3e7fc4" fill-opacity="1" stroke="#3e7fc4" stroke-width="0.7"/>
<rect x="267.60" y="389.10" width="3.80" height="3.80" fill="#3e7fc4" fill-opacity="1" stroke="#3e7fc4" stroke-width="0.7"/>
<rect x="277.30" y="385.10" width="3.80" height="3.80" fill="#3e7fc4" fill-opacity="1" stroke="#3e7fc4" stroke-width="0.7"/>
<rect x="283.50" y="384.50" width="3.80" height="3.80" fill="#3e7fc4" fill-opacity="1" stroke="#3e7fc4" stroke-width="0.7"/>
<rect x="291.30" y="382.30" width="3.80" height="3.80" fill="#3e7fc4" fill-opacity="1" stroke="#3e7fc4" stroke-width="0.7"/>
<rect x="321.60" y="377.00" width="3.80" height="3.80" fill="#3e7fc4" fill-opacity="1" stroke="#3e7fc4" stroke-width="0.7"/>
<rect x="332.10" y="375.80" width="3.80" height="3.80" fill="#3e7fc4" fill-opacity="1" stroke="#3e7fc4" stroke-width="0.7"/>
<rect x="370.60" y="372.80" width="3.80" height="3.80" fill="#3e7fc4" fill-opacity="1" stroke="#3e7fc4" stroke-width="0.7"/>
<rect x="388.10" y="371.40" width="3.80" height="3.80" fill="#3e7fc4" fill-opacity="1" stroke="#3e7fc4" stroke-width="0.7"/>
<rect x="397.80" y="370.50" width="3.80" height="3.80" fill="#3e7fc4" fill-opacity="1" stroke="#3e7fc4" stroke-width="0.7"/>
<rect x="409.20" y="369.30" width="3.80" height="3.80" fill="#3e7fc4" fill-opacity="1" stroke="#3e7fc4" stroke-width="0.7"/>
<rect x="416.10" y="367.90" width="3.80" height="3.80" fill="#3e7fc4" fill-opacity="1" stroke="#3e7fc4" stroke-width="0.7"/>
<rect x="422.10" y="365.60" width="3.80" height="3.80" fill="#3e7fc4" fill-opacity="1" stroke="#3e7fc4" stroke-width="0.7"/>
<rect x="426.60" y="360.10" width="3.80" height="3.80" fill="#3e7fc4" fill-opacity="1" stroke="#3e7fc4" stroke-width="0.7"/>
<rect x="429.10" y="354.10" width="3.80" height="3.80" fill="#3e7fc4" fill-opacity="1" stroke="#3e7fc4" stroke-width="0.7"/>
<polyline points="259.60,406.00 259.80,403.00 260.20,400.00 260.80,397.00 261.80,395.00 263.50,393.00 266.00,391.50 279.70,389.50 285.40,388.20 291.60,385.30 296.60,383.60 300.00,382.50 309.60,380.20 312.40,379.70 324.40,378.20 337.50,376.80 374.30,374.20 392.20,372.90 400.60,371.90 411.90,371.20 418.10,369.80 424.20,367.10 428.60,361.00 431.20,352.60" fill="none" stroke="#f28e3c" stroke-width="0.6"/>
<circle cx="259.60" cy="406.00" r="1.90" fill="#f28e3c" stroke="#f28e3c" stroke-width="0.7"/>
<circle cx="259.80" cy="403.00" r="1.90" fill="#f28e3c" stroke="#f28e3c" stroke-width="0.7"/>
<circle cx="260.20" cy="400.00" r="1.90" fill="#f28e3c" stroke="#f28e3c" stroke-width="0.7"/>
<circle cx="260.80" cy="397.00" r="1.90" fill="#f28e3c" stroke="#f28e3c" stroke-width="0.7"/>
<circle cx="261.80" cy="395.00" r="1.90" fill="#f28e3c" stroke="#f28e3c" stroke-width="0.7"/>
<circle cx="263.50" cy="393.00" r="1.90" fill="#f28e3c" stroke="#f28e3c" stroke-width="0.7"/>
<circle cx="266.00" cy="391.50" r="1.90" fill="#f28e3c" stroke="#f28e3c" stroke-width="0.7"/>
<circle cx="279.70" cy="389.50" r="1.90" fill="#f28e3c" stroke="#f28e3c" stroke-width="0.7"/>
<circle cx="285.40" cy="388.20" r="1.90" fill="#f28e3c" stroke="#f28e3c" stroke-width="0.7"/>
<circle cx="291.60" cy="385.30" r="1.90" fill="#f28e3c" stroke="#f28e3c" stroke-width="0.7"/>
<circle cx="296.60" cy="383.60" r="1.90" fill="#f28e3c" stroke="#f28e3c" stroke-width="0.7"/>
<circle cx="300.00" cy="382.50" r="1.90" fill="#f28e3c" stroke="#f28e3c" stroke-width="0.7"/>
<circle cx="309.60" cy="380.20" r="1.90" fill="#f28e3c" stroke="#f28e3c" stroke-width="0.7"/>
<circle cx="312.40" cy="379.70" r="1.90" fill="#f28e3c" stroke="#f28e3c" stroke-width="0.7"/>
<circle cx="324.40" cy="378.20" r="1.90" fill="#f28e3c" stroke="#f28e3c" stroke-width="0.7"/>
<circle cx="337.50" cy="376.80" r="1.90" fill="#f28e3c" stroke="#f28e3c" stroke-width="0.7"/>
<circle cx="374.30" cy="374.20" r="1.90" fill="#f28e3c" stroke="#f28e3c" stroke-width="0.7"/>
<circle cx="392.20" cy="372.90" r="1.90" fill="#f28e3c" stroke="#f28e3c" stroke-width="0.7"/>
<circle cx="400.60" cy="371.90" r="1.90" fill="#f28e3c" stroke="#f28e3c" stroke-width="0.7"/>
<circle cx="411.90" cy="371.20" r="1.90" fill="#f28e3c" stroke="#f28e3c" stroke-width="0.7"/>
<circle cx="418.10" cy="369.80" r="1.90" fill="#f28e3c" stroke="#f28e3c" stroke-width="0.7"/>
<circle cx="424.20" cy="367.10" r="1.90" fill="#f28e3c" stroke="#f28e3c" stroke-width="0.7"/>
<circle cx="428.60" cy="361.00" r="1.90" fill="#f28e3c" stroke="#f28e3c" stroke-width="0.7"/>
<circle cx="431.20" cy="352.60" r="1.90" fill="#f28e3c" stroke="#f28e3c" stroke-width="0.7"/>
<polyline points="259.70,404.00 260.00,401.00 260.50,398.00 261.50,395.50 263.00,393.50 266.50,391.00 275.20,389.50 283.10,388.20 292.70,385.30 304.50,381.90 314.60,379.10 335.80,376.80 361.70,374.20 390.00,372.40 407.60,371.20 417.20,370.10 421.60,368.40 430.00,361.90 432.40,356.10" fill="none" stroke="#4aa94a" stroke-width="0.6"/>
<polygon points="259.70,401.52 262.06,405.49 257.34,405.49" fill="#4aa94a" stroke="#4aa94a" stroke-width="0.7" stroke-linejoin="miter"/>
<polygon points="260.00,398.52 262.36,402.49 257.64,402.49" fill="#4aa94a" stroke="#4aa94a" stroke-width="0.7" stroke-linejoin="miter"/>
<polygon points="260.50,395.52 262.86,399.49 258.14,399.49" fill="#4aa94a" stroke="#4aa94a" stroke-width="0.7" stroke-linejoin="miter"/>
<polygon points="261.50,393.02 263.86,396.99 259.14,396.99" fill="#4aa94a" stroke="#4aa94a" stroke-width="0.7" stroke-linejoin="miter"/>
<polygon points="263.00,391.02 265.36,394.99 260.64,394.99" fill="#4aa94a" stroke="#4aa94a" stroke-width="0.7" stroke-linejoin="miter"/>
<polygon points="266.50,388.52 268.86,392.49 264.14,392.49" fill="#4aa94a" stroke="#4aa94a" stroke-width="0.7" stroke-linejoin="miter"/>
<polygon points="275.20,387.02 277.56,390.99 272.84,390.99" fill="#4aa94a" stroke="#4aa94a" stroke-width="0.7" stroke-linejoin="miter"/>
<polygon points="283.10,385.72 285.46,389.69 280.74,389.69" fill="#4aa94a" stroke="#4aa94a" stroke-width="0.7" stroke-linejoin="miter"/>
<polygon points="292.70,382.82 295.06,386.79 290.34,386.79" fill="#4aa94a" stroke="#4aa94a" stroke-width="0.7" stroke-linejoin="miter"/>
<polygon points="304.50,379.42 306.86,383.39 302.14,383.39" fill="#4aa94a" stroke="#4aa94a" stroke-width="0.7" stroke-linejoin="miter"/>
<polygon points="314.60,376.62 316.96,380.59 312.24,380.59" fill="#4aa94a" stroke="#4aa94a" stroke-width="0.7" stroke-linejoin="miter"/>
<polygon points="335.80,374.32 338.16,378.29 333.44,378.29" fill="#4aa94a" stroke="#4aa94a" stroke-width="0.7" stroke-linejoin="miter"/>
<polygon points="361.70,371.72 364.06,375.69 359.34,375.69" fill="#4aa94a" stroke="#4aa94a" stroke-width="0.7" stroke-linejoin="miter"/>
<polygon points="390.00,369.92 392.36,373.89 387.64,373.89" fill="#4aa94a" stroke="#4aa94a" stroke-width="0.7" stroke-linejoin="miter"/>
<polygon points="407.60,368.72 409.96,372.69 405.24,372.69" fill="#4aa94a" stroke="#4aa94a" stroke-width="0.7" stroke-linejoin="miter"/>
<polygon points="417.20,367.62 419.56,371.59 414.84,371.59" fill="#4aa94a" stroke="#4aa94a" stroke-width="0.7" stroke-linejoin="miter"/>
<polygon points="421.60,365.92 423.96,369.89 419.24,369.89" fill="#4aa94a" stroke="#4aa94a" stroke-width="0.7" stroke-linejoin="miter"/>
<polygon points="430.00,359.42 432.36,363.39 427.64,363.39" fill="#4aa94a" stroke="#4aa94a" stroke-width="0.7" stroke-linejoin="miter"/>
<polygon points="432.40,353.62 434.76,357.59 430.04,357.59" fill="#4aa94a" stroke="#4aa94a" stroke-width="0.7" stroke-linejoin="miter"/>
<rect x="270.5" y="233.5" width="100.5" height="81.19999999999999" fill="#fff" stroke="#4d4d4d" stroke-width="1"/>
<line x1="266.5" y1="310.5" x2="270.5" y2="310.5" stroke="#4d4d4d" stroke-width="1"/>
<text x="267" y="313.8" font-size="10" text-anchor="end" fill="#000" >0</text>
<line x1="266.5" y1="291.1" x2="270.5" y2="291.1" stroke="#4d4d4d" stroke-width="1"/>
<text x="267" y="294.40000000000003" font-size="10" text-anchor="end" fill="#000" >50</text>
<line x1="266.5" y1="271.7" x2="270.5" y2="271.7" stroke="#4d4d4d" stroke-width="1"/>
<text x="267" y="275.0" font-size="10" text-anchor="end" fill="#000" >100</text>
<line x1="266.5" y1="252.3" x2="270.5" y2="252.3" stroke="#4d4d4d" stroke-width="1"/>
<text x="267" y="255.60000000000002" font-size="10" text-anchor="end" fill="#000" >150</text>
<line x1="268.5" y1="300.8" x2="270.5" y2="300.8" stroke="#4d4d4d" stroke-width="1"/>
<line x1="268.5" y1="281.4" x2="270.5" y2="281.4" stroke="#4d4d4d" stroke-width="1"/>
<line x1="268.5" y1="262.0" x2="270.5" y2="262.0" stroke="#4d4d4d" stroke-width="1"/>
<line x1="268.5" y1="242.60000000000002" x2="270.5" y2="242.60000000000002" stroke="#4d4d4d" stroke-width="1"/>
<line x1="279.4" y1="314.7" x2="279.4" y2="317.7" stroke="#4d4d4d" stroke-width="1"/>
<text x="279.4" y="325.2" font-size="10" text-anchor="middle" fill="#000" >0.00</text>
<line x1="303.45" y1="314.7" x2="303.45" y2="317.7" stroke="#4d4d4d" stroke-width="1"/>
<text x="303.45" y="325.2" font-size="10" text-anchor="middle" fill="#000" >0.05</text>
<line x1="327.5" y1="314.7" x2="327.5" y2="317.7" stroke="#4d4d4d" stroke-width="1"/>
<text x="327.5" y="325.2" font-size="10" text-anchor="middle" fill="#000" >0.10</text>
<line x1="351.54999999999995" y1="314.7" x2="351.54999999999995" y2="317.7" stroke="#4d4d4d" stroke-width="1"/>
<text x="351.55" y="325.2" font-size="10" text-anchor="middle" fill="#000" >0.15</text>
<line x1="291.42499999999995" y1="314.7" x2="291.42499999999995" y2="316.2" stroke="#4d4d4d" stroke-width="1"/>
<line x1="315.47499999999997" y1="314.7" x2="315.47499999999997" y2="316.2" stroke="#4d4d4d" stroke-width="1"/>
<line x1="339.525" y1="314.7" x2="339.525" y2="316.2" stroke="#4d4d4d" stroke-width="1"/>
<line x1="363.575" y1="314.7" x2="363.575" y2="316.2" stroke="#4d4d4d" stroke-width="1"/>
<clipPath id="ic"><rect x="270.5" y="233.5" width="100.5" height="81.19999999999999"/></clipPath>
<g clip-path="url(#ic)">
<g stroke-opacity="0.8">
<polyline points="295.40,260.60 299.10,258.80 305.00,254.70 309.00,249.60 317.00,245.20 323.50,240.40 332.00,234.90 340.00,229.00" fill="none" stroke="#3e7fc4" stroke-width="0.5"/>
<rect x="293.60" y="258.80" width="3.60" height="3.60" fill="#fff" fill-opacity="0" stroke="#3e7fc4" stroke-width="0.6"/>
<rect x="297.30" y="257.00" width="3.60" height="3.60" fill="#fff" fill-opacity="0" stroke="#3e7fc4" stroke-width="0.6"/>
<rect x="303.20" y="252.90" width="3.60" height="3.60" fill="#fff" fill-opacity="0" stroke="#3e7fc4" stroke-width="0.6"/>
<rect x="307.20" y="247.80" width="3.60" height="3.60" fill="#fff" fill-opacity="0" stroke="#3e7fc4" stroke-width="0.6"/>
<rect x="315.20" y="243.40" width="3.60" height="3.60" fill="#fff" fill-opacity="0" stroke="#3e7fc4" stroke-width="0.6"/>
<rect x="321.70" y="238.60" width="3.60" height="3.60" fill="#fff" fill-opacity="0" stroke="#3e7fc4" stroke-width="0.6"/>
<rect x="330.20" y="233.10" width="3.60" height="3.60" fill="#fff" fill-opacity="0" stroke="#3e7fc4" stroke-width="0.6"/>
<rect x="338.20" y="227.20" width="3.60" height="3.60" fill="#fff" fill-opacity="0" stroke="#3e7fc4" stroke-width="0.6"/>
<polyline points="297.30,268.00 300.90,266.10 305.40,262.80 310.10,260.30 314.50,256.50 319.00,253.80 323.50,250.70 328.60,247.10 335.00,243.90 340.50,239.40 350.40,234.50 360.00,229.00" fill="none" stroke="#f28e3c" stroke-width="0.5"/>
<circle cx="297.30" cy="268.00" r="1.90" fill="none" stroke="#f28e3c" stroke-width="0.6"/>
<circle cx="300.90" cy="266.10" r="1.90" fill="none" stroke="#f28e3c" stroke-width="0.6"/>
<circle cx="305.40" cy="262.80" r="1.90" fill="none" stroke="#f28e3c" stroke-width="0.6"/>
<circle cx="310.10" cy="260.30" r="1.90" fill="none" stroke="#f28e3c" stroke-width="0.6"/>
<circle cx="314.50" cy="256.50" r="1.90" fill="none" stroke="#f28e3c" stroke-width="0.6"/>
<circle cx="319.00" cy="253.80" r="1.90" fill="none" stroke="#f28e3c" stroke-width="0.6"/>
<circle cx="323.50" cy="250.70" r="1.90" fill="none" stroke="#f28e3c" stroke-width="0.6"/>
<circle cx="328.60" cy="247.10" r="1.90" fill="none" stroke="#f28e3c" stroke-width="0.6"/>
<circle cx="335.00" cy="243.90" r="1.90" fill="none" stroke="#f28e3c" stroke-width="0.6"/>
<circle cx="340.50" cy="239.40" r="1.90" fill="none" stroke="#f28e3c" stroke-width="0.6"/>
<circle cx="350.40" cy="234.50" r="1.90" fill="none" stroke="#f28e3c" stroke-width="0.6"/>
<circle cx="360.00" cy="229.00" r="1.90" fill="none" stroke="#f28e3c" stroke-width="0.6"/>
<polygon points="305.00,261.40 307.47,265.56 302.53,265.56" fill="none" stroke="#4aa94a" stroke-width="0.6" stroke-linejoin="miter"/>
<polygon points="307.80,259.90 310.27,264.06 305.33,264.06" fill="none" stroke="#4aa94a" stroke-width="0.6" stroke-linejoin="miter"/>
<polygon points="310.50,258.00 312.97,262.16 308.03,262.16" fill="none" stroke="#4aa94a" stroke-width="0.6" stroke-linejoin="miter"/>
<polygon points="321.50,253.50 323.97,257.66 319.03,257.66" fill="none" stroke="#4aa94a" stroke-width="0.6" stroke-linejoin="miter"/>
<polygon points="330.50,248.40 332.97,252.56 328.03,252.56" fill="none" stroke="#4aa94a" stroke-width="0.6" stroke-linejoin="miter"/>
<polygon points="340.10,241.90 342.57,246.06 337.63,246.06" fill="none" stroke="#4aa94a" stroke-width="0.6" stroke-linejoin="miter"/>
</g>
<polyline points="305,264 307.8,262.5 310.5,260.6 321.5,256.1 330.5,251 340.1,244.5 372,235.6" fill="none" stroke="#4aa94a" stroke-width="0.6"/>
<rect x="278.40" y="306.80" width="3.40" height="3.40" fill="#3e7fc4" fill-opacity="1" stroke="#3e7fc4" stroke-width="0.7"/>
<rect x="281.30" y="306.10" width="3.40" height="3.40" fill="#3e7fc4" fill-opacity="1" stroke="#3e7fc4" stroke-width="0.7"/>
<rect x="284.30" y="305.10" width="3.40" height="3.40" fill="#3e7fc4" fill-opacity="1" stroke="#3e7fc4" stroke-width="0.7"/>
<rect x="287.60" y="303.10" width="3.40" height="3.40" fill="#3e7fc4" fill-opacity="1" stroke="#3e7fc4" stroke-width="0.7"/>
<rect x="290.30" y="300.80" width="3.40" height="3.40" fill="#3e7fc4" fill-opacity="1" stroke="#3e7fc4" stroke-width="0.7"/>
<rect x="292.80" y="298.30" width="3.40" height="3.40" fill="#3e7fc4" fill-opacity="1" stroke="#3e7fc4" stroke-width="0.7"/>
<rect x="294.30" y="295.30" width="3.40" height="3.40" fill="#3e7fc4" fill-opacity="1" stroke="#3e7fc4" stroke-width="0.7"/>
<rect x="295.60" y="291.50" width="3.40" height="3.40" fill="#3e7fc4" fill-opacity="1" stroke="#3e7fc4" stroke-width="0.7"/>
<rect x="296.30" y="287.80" width="3.40" height="3.40" fill="#3e7fc4" fill-opacity="1" stroke="#3e7fc4" stroke-width="0.7"/>
<rect x="297.10" y="284.30" width="3.40" height="3.40" fill="#3e7fc4" fill-opacity="1" stroke="#3e7fc4" stroke-width="0.7"/>
<rect x="297.80" y="280.80" width="3.40" height="3.40" fill="#3e7fc4" fill-opacity="1" stroke="#3e7fc4" stroke-width="0.7"/>
<rect x="298.50" y="277.30" width="3.40" height="3.40" fill="#3e7fc4" fill-opacity="1" stroke="#3e7fc4" stroke-width="0.7"/>
<rect x="299.20" y="273.80" width="3.40" height="3.40" fill="#3e7fc4" fill-opacity="1" stroke="#3e7fc4" stroke-width="0.7"/>
<rect x="300.10" y="270.30" width="3.40" height="3.40" fill="#3e7fc4" fill-opacity="1" stroke="#3e7fc4" stroke-width="0.7"/>
<rect x="301.10" y="267.80" width="3.40" height="3.40" fill="#3e7fc4" fill-opacity="1" stroke="#3e7fc4" stroke-width="0.7"/>
<rect x="309.60" y="264.60" width="3.40" height="3.40" fill="#3e7fc4" fill-opacity="1" stroke="#3e7fc4" stroke-width="0.7"/>
<rect x="316.30" y="263.10" width="3.40" height="3.40" fill="#3e7fc4" fill-opacity="1" stroke="#3e7fc4" stroke-width="0.7"/>
<rect x="335.20" y="258.90" width="3.40" height="3.40" fill="#3e7fc4" fill-opacity="1" stroke="#3e7fc4" stroke-width="0.7"/>
<rect x="348.30" y="256.70" width="3.40" height="3.40" fill="#3e7fc4" fill-opacity="1" stroke="#3e7fc4" stroke-width="0.7"/>
<rect x="353.20" y="255.90" width="3.40" height="3.40" fill="#3e7fc4" fill-opacity="1" stroke="#3e7fc4" stroke-width="0.7"/>
<polyline points="280.1,308.5 283,307.8 286,306.8 289.3,304.8 292,302.5 294.5,300 296,297 297.3,293.2 298,289.5 298.8,286 299.5,282.5 300.2,279 300.9,275.5 301.8,272 302.8,269.5 311.3,266.3 318,264.8 336.9,260.6 350,258.4 354.9,257.6 372,254.2" fill="none" stroke="#3e7fc4" stroke-width="0.6"/>
<polyline points="280.10,308.00 280.50,304.50 281.00,300.50 281.60,296.50 282.30,292.50 283.30,288.50 284.80,285.00 287.00,282.40 290.30,280.20 294.50,278.20 298.50,276.30 303.50,274.80 309.00,273.10 318.00,270.40 335.60,265.70 348.50,262.70 352.30,261.80 370.30,255.40" fill="none" stroke="#f28e3c" stroke-width="0.6"/>
<circle cx="280.10" cy="308.00" r="1.80" fill="#f28e3c" stroke="#f28e3c" stroke-width="0.7"/>
<circle cx="280.50" cy="304.50" r="1.80" fill="#f28e3c" stroke="#f28e3c" stroke-width="0.7"/>
<circle cx="281.00" cy="300.50" r="1.80" fill="#f28e3c" stroke="#f28e3c" stroke-width="0.7"/>
<circle cx="281.60" cy="296.50" r="1.80" fill="#f28e3c" stroke="#f28e3c" stroke-width="0.7"/>
<circle cx="282.30" cy="292.50" r="1.80" fill="#f28e3c" stroke="#f28e3c" stroke-width="0.7"/>
<circle cx="283.30" cy="288.50" r="1.80" fill="#f28e3c" stroke="#f28e3c" stroke-width="0.7"/>
<circle cx="284.80" cy="285.00" r="1.80" fill="#f28e3c" stroke="#f28e3c" stroke-width="0.7"/>
<circle cx="287.00" cy="282.40" r="1.80" fill="#f28e3c" stroke="#f28e3c" stroke-width="0.7"/>
<circle cx="290.30" cy="280.20" r="1.80" fill="#f28e3c" stroke="#f28e3c" stroke-width="0.7"/>
<circle cx="294.50" cy="278.20" r="1.80" fill="#f28e3c" stroke="#f28e3c" stroke-width="0.7"/>
<circle cx="298.50" cy="276.30" r="1.80" fill="#f28e3c" stroke="#f28e3c" stroke-width="0.7"/>
<circle cx="303.50" cy="274.80" r="1.80" fill="#f28e3c" stroke="#f28e3c" stroke-width="0.7"/>
<circle cx="309.00" cy="273.10" r="1.80" fill="#f28e3c" stroke="#f28e3c" stroke-width="0.7"/>
<circle cx="318.00" cy="270.40" r="1.80" fill="#f28e3c" stroke="#f28e3c" stroke-width="0.7"/>
<circle cx="335.60" cy="265.70" r="1.80" fill="#f28e3c" stroke="#f28e3c" stroke-width="0.7"/>
<circle cx="348.50" cy="262.70" r="1.80" fill="#f28e3c" stroke="#f28e3c" stroke-width="0.7"/>
<circle cx="352.30" cy="261.80" r="1.80" fill="#f28e3c" stroke="#f28e3c" stroke-width="0.7"/>
<circle cx="370.30" cy="255.40" r="1.80" fill="#f28e3c" stroke="#f28e3c" stroke-width="0.7"/>
<polygon points="280.90,300.52 283.26,304.49 278.54,304.49" fill="#4aa94a" stroke="#4aa94a" stroke-width="0.7" stroke-linejoin="miter"/>
<polygon points="281.50,295.92 283.86,299.89 279.14,299.89" fill="#4aa94a" stroke="#4aa94a" stroke-width="0.7" stroke-linejoin="miter"/>
<polygon points="282.10,290.42 284.46,294.39 279.74,294.39" fill="#4aa94a" stroke="#4aa94a" stroke-width="0.7" stroke-linejoin="miter"/>
<polygon points="282.90,283.92 285.26,287.89 280.54,287.89" fill="#4aa94a" stroke="#4aa94a" stroke-width="0.7" stroke-linejoin="miter"/>
<polygon points="285.10,279.92 287.46,283.89 282.74,283.89" fill="#4aa94a" stroke="#4aa94a" stroke-width="0.7" stroke-linejoin="miter"/>
<polygon points="289.30,276.22 291.66,280.19 286.94,280.19" fill="#4aa94a" stroke="#4aa94a" stroke-width="0.7" stroke-linejoin="miter"/>
<polygon points="293.00,274.72 295.36,278.69 290.64,278.69" fill="#4aa94a" stroke="#4aa94a" stroke-width="0.7" stroke-linejoin="miter"/>
<polygon points="302.20,270.62 304.56,274.59 299.84,274.59" fill="#4aa94a" stroke="#4aa94a" stroke-width="0.7" stroke-linejoin="miter"/>
<polygon points="308.70,269.22 311.06,273.19 306.34,273.19" fill="#4aa94a" stroke="#4aa94a" stroke-width="0.7" stroke-linejoin="miter"/>
<polygon points="314.90,267.02 317.26,270.99 312.54,270.99" fill="#4aa94a" stroke="#4aa94a" stroke-width="0.7" stroke-linejoin="miter"/>
<polygon points="321.80,265.12 324.16,269.09 319.44,269.09" fill="#4aa94a" stroke="#4aa94a" stroke-width="0.7" stroke-linejoin="miter"/>
<polygon points="330.50,264.12 332.86,268.09 328.14,268.09" fill="#4aa94a" stroke="#4aa94a" stroke-width="0.7" stroke-linejoin="miter"/>
<polygon points="345.60,260.62 347.96,264.59 343.24,264.59" fill="#4aa94a" stroke="#4aa94a" stroke-width="0.7" stroke-linejoin="miter"/>
<polyline points="280.9,303 281.5,298.4 282.1,292.9 282.9,286.4 285.1,282.4 289.3,278.7 293,277.2 302.2,273.1 308.7,271.7 314.9,269.5 321.8,267.6 330.5,266.6 345.6,263.1 372,258" fill="none" stroke="#4aa94a" stroke-width="0.6"/>
</g>
<line x1="376.4" y1="240.7" x2="394.6" y2="240.7" stroke="#a9c5e6" stroke-width="0.9"/>
<rect x="383.50" y="238.70" width="4.00" height="4.00" fill="#3e7fc4" fill-opacity="1" stroke="#3e7fc4" stroke-width="0.8"/>
<text x="397" y="243.6" font-size="8.5" text-anchor="start" fill="#000" >First cycle</text>
<line x1="376.4" y1="251.2" x2="394.6" y2="251.2" stroke="#f8c59a" stroke-width="0.9"/>
<circle cx="385.50" cy="251.20" r="2.00" fill="#f28e3c" stroke="#f28e3c" stroke-width="0.8"/>
<text x="397" y="254.1" font-size="8.5" text-anchor="start" fill="#000" >Second cycle</text>
<line x1="376.4" y1="261.4" x2="394.6" y2="261.4" stroke="#a5d6a5" stroke-width="0.9"/>
<polygon points="385.50,258.92 387.86,262.89 383.14,262.89" fill="#4aa94a" stroke="#4aa94a" stroke-width="0.8" stroke-linejoin="miter"/>
<text x="397" y="264.29999999999995" font-size="8.5" text-anchor="start" fill="#000" >Third cycle</text>
</svg>
</body></html>
